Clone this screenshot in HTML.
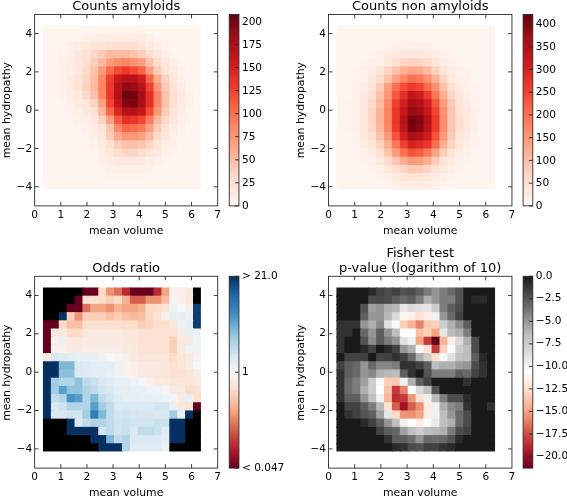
<!DOCTYPE html>
<html lang="en"><head><meta charset="utf-8"><title>Amyloid heatmaps</title>
<style>html,body{margin:0;padding:0;background:#fff}svg{display:block;will-change:transform}</style></head>
<body>
<svg width="567" height="497" viewBox="0 0 567 497" font-family='"DejaVu Sans", "Liberation Sans", sans-serif' font-size="10.85" fill="#000">
<rect width="567" height="497" fill="#fff"/>
<g>
<rect x="42.97" y="25.4" width="56.28" height="9.2" fill="#fff5f0"/>
<rect x="98.25" y="25.4" width="40.48" height="9.2" fill="#fff3ed"/>
<rect x="137.73" y="25.4" width="63.17" height="9.2" fill="#fff5f0"/>
<rect x="42.97" y="33.6" width="32.59" height="9.21" fill="#fff5f0"/>
<rect x="74.56" y="33.6" width="8.9" height="9.21" fill="#fff3ed"/>
<rect x="82.45" y="33.6" width="8.9" height="9.21" fill="#fff1ea"/>
<rect x="90.35" y="33.6" width="8.9" height="9.21" fill="#ffefe8"/>
<rect x="98.25" y="33.6" width="16.79" height="9.21" fill="#ffede5"/>
<rect x="114.04" y="33.6" width="16.79" height="9.21" fill="#ffece3"/>
<rect x="129.83" y="33.6" width="8.9" height="9.21" fill="#ffede5"/>
<rect x="137.73" y="33.6" width="8.9" height="9.21" fill="#ffeee6"/>
<rect x="145.62" y="33.6" width="8.9" height="9.21" fill="#fff1ea"/>
<rect x="153.52" y="33.6" width="8.9" height="9.21" fill="#fff3ed"/>
<rect x="161.42" y="33.6" width="39.48" height="9.21" fill="#fff5f0"/>
<rect x="42.97" y="41.81" width="16.79" height="9.2" fill="#fff5f0"/>
<rect x="58.76" y="41.81" width="8.9" height="9.2" fill="#fff3ed"/>
<rect x="66.66" y="41.81" width="8.9" height="9.2" fill="#fff1ea"/>
<rect x="74.56" y="41.81" width="8.9" height="9.2" fill="#ffede5"/>
<rect x="82.45" y="41.81" width="8.9" height="9.2" fill="#fee8de"/>
<rect x="90.35" y="41.81" width="8.9" height="9.2" fill="#fee5d8"/>
<rect x="98.25" y="41.81" width="8.9" height="9.2" fill="#fee3d6"/>
<rect x="106.14" y="41.81" width="32.59" height="9.2" fill="#fee0d2"/>
<rect x="137.73" y="41.81" width="8.9" height="9.2" fill="#fee5d8"/>
<rect x="145.62" y="41.81" width="8.9" height="9.2" fill="#feeae1"/>
<rect x="153.52" y="41.81" width="8.9" height="9.2" fill="#ffefe8"/>
<rect x="161.42" y="41.81" width="8.9" height="9.2" fill="#fff2ec"/>
<rect x="169.31" y="41.81" width="31.59" height="9.2" fill="#fff5f0"/>
<rect x="42.97" y="50.02" width="16.79" height="9.2" fill="#fff5f0"/>
<rect x="58.76" y="50.02" width="8.9" height="9.2" fill="#fff2ec"/>
<rect x="66.66" y="50.02" width="8.9" height="9.2" fill="#ffefe8"/>
<rect x="74.56" y="50.02" width="8.9" height="9.2" fill="#fee8de"/>
<rect x="82.45" y="50.02" width="8.9" height="9.2" fill="#fee3d6"/>
<rect x="90.35" y="50.02" width="8.9" height="9.2" fill="#fed9c9"/>
<rect x="98.25" y="50.02" width="8.9" height="9.2" fill="#fdcab5"/>
<rect x="106.14" y="50.02" width="24.69" height="9.2" fill="#fcbba1"/>
<rect x="129.83" y="50.02" width="8.9" height="9.2" fill="#fcc3ab"/>
<rect x="137.73" y="50.02" width="8.9" height="9.2" fill="#fdcdb9"/>
<rect x="145.62" y="50.02" width="8.9" height="9.2" fill="#fee0d2"/>
<rect x="153.52" y="50.02" width="8.9" height="9.2" fill="#fee8de"/>
<rect x="161.42" y="50.02" width="8.9" height="9.2" fill="#ffefe8"/>
<rect x="169.31" y="50.02" width="8.9" height="9.2" fill="#fff3ed"/>
<rect x="177.21" y="50.02" width="23.69" height="9.2" fill="#fff5f0"/>
<rect x="42.97" y="58.22" width="16.79" height="9.2" fill="#fff5f0"/>
<rect x="58.76" y="58.22" width="8.9" height="9.2" fill="#fff1ea"/>
<rect x="66.66" y="58.22" width="8.9" height="9.2" fill="#ffede5"/>
<rect x="74.56" y="58.22" width="8.9" height="9.2" fill="#fee7db"/>
<rect x="82.45" y="58.22" width="8.9" height="9.2" fill="#fee0d2"/>
<rect x="90.35" y="58.22" width="8.9" height="9.2" fill="#fdcdb9"/>
<rect x="98.25" y="58.22" width="8.9" height="9.2" fill="#fcb79c"/>
<rect x="106.14" y="58.22" width="8.9" height="9.2" fill="#fc9b7c"/>
<rect x="114.04" y="58.22" width="8.9" height="9.2" fill="#fc8e6e"/>
<rect x="121.94" y="58.22" width="8.9" height="9.2" fill="#fc8666"/>
<rect x="129.83" y="58.22" width="8.9" height="9.2" fill="#fc9272"/>
<rect x="137.73" y="58.22" width="8.9" height="9.2" fill="#fc9e80"/>
<rect x="145.62" y="58.22" width="8.9" height="9.2" fill="#fcc3ab"/>
<rect x="153.52" y="58.22" width="8.9" height="9.2" fill="#fedccd"/>
<rect x="161.42" y="58.22" width="8.9" height="9.2" fill="#fee8de"/>
<rect x="169.31" y="58.22" width="8.9" height="9.2" fill="#ffefe8"/>
<rect x="177.21" y="58.22" width="8.9" height="9.2" fill="#fff3ed"/>
<rect x="185.11" y="58.22" width="15.79" height="9.2" fill="#fff5f0"/>
<rect x="42.97" y="66.42" width="16.79" height="9.2" fill="#fff5f0"/>
<rect x="58.76" y="66.42" width="8.9" height="9.2" fill="#fff1ea"/>
<rect x="66.66" y="66.42" width="8.9" height="9.2" fill="#ffede5"/>
<rect x="74.56" y="66.42" width="8.9" height="9.2" fill="#fee7db"/>
<rect x="82.45" y="66.42" width="8.9" height="9.2" fill="#fed9c9"/>
<rect x="90.35" y="66.42" width="8.9" height="9.2" fill="#fcc3ab"/>
<rect x="98.25" y="66.42" width="8.9" height="9.2" fill="#fc9b7c"/>
<rect x="106.14" y="66.42" width="8.9" height="9.2" fill="#fb694a"/>
<rect x="114.04" y="66.42" width="8.9" height="9.2" fill="#f34935"/>
<rect x="121.94" y="66.42" width="8.9" height="9.2" fill="#ee3a2c"/>
<rect x="129.83" y="66.42" width="8.9" height="9.2" fill="#f34935"/>
<rect x="137.73" y="66.42" width="8.9" height="9.2" fill="#f96044"/>
<rect x="145.62" y="66.42" width="8.9" height="9.2" fill="#fc9e80"/>
<rect x="153.52" y="66.42" width="8.9" height="9.2" fill="#fdcdb9"/>
<rect x="161.42" y="66.42" width="8.9" height="9.2" fill="#fee5d8"/>
<rect x="169.31" y="66.42" width="8.9" height="9.2" fill="#feeae1"/>
<rect x="177.21" y="66.42" width="8.9" height="9.2" fill="#fff1ea"/>
<rect x="185.11" y="66.42" width="15.79" height="9.2" fill="#fff5f0"/>
<rect x="42.97" y="74.63" width="16.79" height="9.21" fill="#fff5f0"/>
<rect x="58.76" y="74.63" width="8.9" height="9.21" fill="#fff1ea"/>
<rect x="66.66" y="74.63" width="8.9" height="9.21" fill="#feeae1"/>
<rect x="74.56" y="74.63" width="8.9" height="9.21" fill="#fee3d6"/>
<rect x="82.45" y="74.63" width="8.9" height="9.21" fill="#fdd5c4"/>
<rect x="90.35" y="74.63" width="8.9" height="9.21" fill="#fcbba1"/>
<rect x="98.25" y="74.63" width="8.9" height="9.21" fill="#fc8666"/>
<rect x="106.14" y="74.63" width="8.9" height="9.21" fill="#ee3a2c"/>
<rect x="114.04" y="74.63" width="8.9" height="9.21" fill="#ca181d"/>
<rect x="121.94" y="74.63" width="16.79" height="9.21" fill="#b71319"/>
<rect x="137.73" y="74.63" width="8.9" height="9.21" fill="#cf1c1f"/>
<rect x="145.62" y="74.63" width="8.9" height="9.21" fill="#fa6547"/>
<rect x="153.52" y="74.63" width="8.9" height="9.21" fill="#fcab8f"/>
<rect x="161.42" y="74.63" width="8.9" height="9.21" fill="#fdd5c4"/>
<rect x="169.31" y="74.63" width="8.9" height="9.21" fill="#fee7db"/>
<rect x="177.21" y="74.63" width="8.9" height="9.21" fill="#ffefe8"/>
<rect x="185.11" y="74.63" width="8.9" height="9.21" fill="#fff3ed"/>
<rect x="193" y="74.63" width="7.9" height="9.21" fill="#fff5f0"/>
<rect x="42.97" y="82.84" width="16.79" height="9.2" fill="#fff5f0"/>
<rect x="58.76" y="82.84" width="8.9" height="9.2" fill="#fff1ea"/>
<rect x="66.66" y="82.84" width="8.9" height="9.2" fill="#feeae1"/>
<rect x="74.56" y="82.84" width="8.9" height="9.2" fill="#fee3d6"/>
<rect x="82.45" y="82.84" width="8.9" height="9.2" fill="#fdd2bf"/>
<rect x="90.35" y="82.84" width="8.9" height="9.2" fill="#fcb79c"/>
<rect x="98.25" y="82.84" width="8.9" height="9.2" fill="#fc8262"/>
<rect x="106.14" y="82.84" width="8.9" height="9.2" fill="#eb372a"/>
<rect x="114.04" y="82.84" width="8.9" height="9.2" fill="#b71319"/>
<rect x="121.94" y="82.84" width="8.9" height="9.2" fill="#920a13"/>
<rect x="129.83" y="82.84" width="8.9" height="9.2" fill="#980c13"/>
<rect x="137.73" y="82.84" width="8.9" height="9.2" fill="#b71319"/>
<rect x="145.62" y="82.84" width="8.9" height="9.2" fill="#f0402f"/>
<rect x="153.52" y="82.84" width="8.9" height="9.2" fill="#fc9777"/>
<rect x="161.42" y="82.84" width="8.9" height="9.2" fill="#fdcab5"/>
<rect x="169.31" y="82.84" width="8.9" height="9.2" fill="#fee3d6"/>
<rect x="177.21" y="82.84" width="8.9" height="9.2" fill="#ffede5"/>
<rect x="185.11" y="82.84" width="8.9" height="9.2" fill="#fff3ed"/>
<rect x="193" y="82.84" width="7.9" height="9.2" fill="#fff5f0"/>
<rect x="42.97" y="91.04" width="16.79" height="9.21" fill="#fff5f0"/>
<rect x="58.76" y="91.04" width="8.9" height="9.21" fill="#fff1ea"/>
<rect x="66.66" y="91.04" width="8.9" height="9.21" fill="#ffede5"/>
<rect x="74.56" y="91.04" width="8.9" height="9.21" fill="#fee7db"/>
<rect x="82.45" y="91.04" width="8.9" height="9.21" fill="#fed9c9"/>
<rect x="90.35" y="91.04" width="8.9" height="9.21" fill="#fcbfa7"/>
<rect x="98.25" y="91.04" width="8.9" height="9.21" fill="#fc8666"/>
<rect x="106.14" y="91.04" width="8.9" height="9.21" fill="#eb372a"/>
<rect x="114.04" y="91.04" width="8.9" height="9.21" fill="#b31218"/>
<rect x="121.94" y="91.04" width="8.9" height="9.21" fill="#6d010e"/>
<rect x="129.83" y="91.04" width="8.9" height="9.21" fill="#73030f"/>
<rect x="137.73" y="91.04" width="8.9" height="9.21" fill="#a91016"/>
<rect x="145.62" y="91.04" width="8.9" height="9.21" fill="#e43027"/>
<rect x="153.52" y="91.04" width="8.9" height="9.21" fill="#fc8666"/>
<rect x="161.42" y="91.04" width="8.9" height="9.21" fill="#fcc3ab"/>
<rect x="169.31" y="91.04" width="8.9" height="9.21" fill="#fee0d2"/>
<rect x="177.21" y="91.04" width="8.9" height="9.21" fill="#feeae1"/>
<rect x="185.11" y="91.04" width="8.9" height="9.21" fill="#fff1ea"/>
<rect x="193" y="91.04" width="7.9" height="9.21" fill="#fff5f0"/>
<rect x="42.97" y="99.25" width="16.79" height="9.2" fill="#fff5f0"/>
<rect x="58.76" y="99.25" width="8.9" height="9.2" fill="#fff3ed"/>
<rect x="66.66" y="99.25" width="8.9" height="9.2" fill="#ffefe8"/>
<rect x="74.56" y="99.25" width="8.9" height="9.2" fill="#feeae1"/>
<rect x="82.45" y="99.25" width="8.9" height="9.2" fill="#fee5d8"/>
<rect x="90.35" y="99.25" width="8.9" height="9.2" fill="#fdd2bf"/>
<rect x="98.25" y="99.25" width="8.9" height="9.2" fill="#fc9e80"/>
<rect x="106.14" y="99.25" width="8.9" height="9.2" fill="#f14432"/>
<rect x="114.04" y="99.25" width="8.9" height="9.2" fill="#c3161b"/>
<rect x="121.94" y="99.25" width="8.9" height="9.2" fill="#840711"/>
<rect x="129.83" y="99.25" width="8.9" height="9.2" fill="#7e0610"/>
<rect x="137.73" y="99.25" width="8.9" height="9.2" fill="#a91016"/>
<rect x="145.62" y="99.25" width="8.9" height="9.2" fill="#e43027"/>
<rect x="153.52" y="99.25" width="8.9" height="9.2" fill="#fc8666"/>
<rect x="161.42" y="99.25" width="8.9" height="9.2" fill="#fcc3ab"/>
<rect x="169.31" y="99.25" width="8.9" height="9.2" fill="#fee0d2"/>
<rect x="177.21" y="99.25" width="8.9" height="9.2" fill="#feeae1"/>
<rect x="185.11" y="99.25" width="8.9" height="9.2" fill="#fff1ea"/>
<rect x="193" y="99.25" width="7.9" height="9.2" fill="#fff5f0"/>
<rect x="42.97" y="107.45" width="24.69" height="9.21" fill="#fff5f0"/>
<rect x="66.66" y="107.45" width="8.9" height="9.21" fill="#fff2ec"/>
<rect x="74.56" y="107.45" width="8.9" height="9.21" fill="#ffefe8"/>
<rect x="82.45" y="107.45" width="8.9" height="9.21" fill="#fee8de"/>
<rect x="90.35" y="107.45" width="8.9" height="9.21" fill="#fee0d2"/>
<rect x="98.25" y="107.45" width="8.9" height="9.21" fill="#fcb398"/>
<rect x="106.14" y="107.45" width="8.9" height="9.21" fill="#fa6547"/>
<rect x="114.04" y="107.45" width="8.9" height="9.21" fill="#dc2924"/>
<rect x="121.94" y="107.45" width="8.9" height="9.21" fill="#b31218"/>
<rect x="129.83" y="107.45" width="8.9" height="9.21" fill="#b01217"/>
<rect x="137.73" y="107.45" width="8.9" height="9.21" fill="#c7171c"/>
<rect x="145.62" y="107.45" width="8.9" height="9.21" fill="#f34935"/>
<rect x="153.52" y="107.45" width="8.9" height="9.21" fill="#fc9777"/>
<rect x="161.42" y="107.45" width="8.9" height="9.21" fill="#fdcdb9"/>
<rect x="169.31" y="107.45" width="8.9" height="9.21" fill="#fee5d8"/>
<rect x="177.21" y="107.45" width="8.9" height="9.21" fill="#ffede5"/>
<rect x="185.11" y="107.45" width="8.9" height="9.21" fill="#fff3ed"/>
<rect x="193" y="107.45" width="7.9" height="9.21" fill="#fff5f0"/>
<rect x="42.97" y="115.66" width="24.69" height="9.21" fill="#fff5f0"/>
<rect x="66.66" y="115.66" width="8.9" height="9.21" fill="#fff3ed"/>
<rect x="74.56" y="115.66" width="8.9" height="9.21" fill="#fff1ea"/>
<rect x="82.45" y="115.66" width="8.9" height="9.21" fill="#ffefe8"/>
<rect x="90.35" y="115.66" width="8.9" height="9.21" fill="#fee8de"/>
<rect x="98.25" y="115.66" width="8.9" height="9.21" fill="#fdd2bf"/>
<rect x="106.14" y="115.66" width="8.9" height="9.21" fill="#fc9e80"/>
<rect x="114.04" y="115.66" width="8.9" height="9.21" fill="#f6583e"/>
<rect x="121.94" y="115.66" width="8.9" height="9.21" fill="#e43027"/>
<rect x="129.83" y="115.66" width="8.9" height="9.21" fill="#e83429"/>
<rect x="137.73" y="115.66" width="8.9" height="9.21" fill="#f14432"/>
<rect x="145.62" y="115.66" width="8.9" height="9.21" fill="#fb7d5d"/>
<rect x="153.52" y="115.66" width="8.9" height="9.21" fill="#fcb79c"/>
<rect x="161.42" y="115.66" width="8.9" height="9.21" fill="#fed9c9"/>
<rect x="169.31" y="115.66" width="8.9" height="9.21" fill="#fee8de"/>
<rect x="177.21" y="115.66" width="8.9" height="9.21" fill="#ffefe8"/>
<rect x="185.11" y="115.66" width="8.9" height="9.21" fill="#fff3ed"/>
<rect x="193" y="115.66" width="7.9" height="9.21" fill="#fff5f0"/>
<rect x="42.97" y="123.86" width="32.59" height="9.2" fill="#fff5f0"/>
<rect x="74.56" y="123.86" width="8.9" height="9.2" fill="#fff3ed"/>
<rect x="82.45" y="123.86" width="8.9" height="9.2" fill="#fff1ea"/>
<rect x="90.35" y="123.86" width="8.9" height="9.2" fill="#ffede5"/>
<rect x="98.25" y="123.86" width="8.9" height="9.2" fill="#fee5d8"/>
<rect x="106.14" y="123.86" width="8.9" height="9.2" fill="#fdc6b0"/>
<rect x="114.04" y="123.86" width="8.9" height="9.2" fill="#fc8a6a"/>
<rect x="121.94" y="123.86" width="8.9" height="9.2" fill="#fb694a"/>
<rect x="129.83" y="123.86" width="8.9" height="9.2" fill="#fb6e4e"/>
<rect x="137.73" y="123.86" width="8.9" height="9.2" fill="#fb7a5a"/>
<rect x="145.62" y="123.86" width="8.9" height="9.2" fill="#fc9e80"/>
<rect x="153.52" y="123.86" width="8.9" height="9.2" fill="#fdcab5"/>
<rect x="161.42" y="123.86" width="8.9" height="9.2" fill="#fee3d6"/>
<rect x="169.31" y="123.86" width="8.9" height="9.2" fill="#ffede5"/>
<rect x="177.21" y="123.86" width="8.9" height="9.2" fill="#fff1ea"/>
<rect x="185.11" y="123.86" width="15.79" height="9.2" fill="#fff5f0"/>
<rect x="42.97" y="132.06" width="40.48" height="9.21" fill="#fff5f0"/>
<rect x="82.45" y="132.06" width="8.9" height="9.21" fill="#fff3ed"/>
<rect x="90.35" y="132.06" width="8.9" height="9.21" fill="#ffefe8"/>
<rect x="98.25" y="132.06" width="8.9" height="9.21" fill="#fee7db"/>
<rect x="106.14" y="132.06" width="8.9" height="9.21" fill="#fdcdb9"/>
<rect x="114.04" y="132.06" width="8.9" height="9.21" fill="#fcab8f"/>
<rect x="121.94" y="132.06" width="16.79" height="9.21" fill="#fc9777"/>
<rect x="137.73" y="132.06" width="8.9" height="9.21" fill="#fca285"/>
<rect x="145.62" y="132.06" width="8.9" height="9.21" fill="#fcbba1"/>
<rect x="153.52" y="132.06" width="8.9" height="9.21" fill="#fedccd"/>
<rect x="161.42" y="132.06" width="8.9" height="9.21" fill="#fee8de"/>
<rect x="169.31" y="132.06" width="8.9" height="9.21" fill="#ffefe8"/>
<rect x="177.21" y="132.06" width="8.9" height="9.21" fill="#fff3ed"/>
<rect x="185.11" y="132.06" width="15.79" height="9.21" fill="#fff5f0"/>
<rect x="42.97" y="140.27" width="40.48" height="9.2" fill="#fff5f0"/>
<rect x="82.45" y="140.27" width="8.9" height="9.2" fill="#fff3ed"/>
<rect x="90.35" y="140.27" width="8.9" height="9.2" fill="#fff1ea"/>
<rect x="98.25" y="140.27" width="8.9" height="9.2" fill="#feeae1"/>
<rect x="106.14" y="140.27" width="8.9" height="9.2" fill="#fee0d2"/>
<rect x="114.04" y="140.27" width="8.9" height="9.2" fill="#fdcdb9"/>
<rect x="121.94" y="140.27" width="16.79" height="9.2" fill="#fcbfa7"/>
<rect x="137.73" y="140.27" width="8.9" height="9.2" fill="#fdc6b0"/>
<rect x="145.62" y="140.27" width="8.9" height="9.2" fill="#fdd5c4"/>
<rect x="153.52" y="140.27" width="8.9" height="9.2" fill="#fee5d8"/>
<rect x="161.42" y="140.27" width="8.9" height="9.2" fill="#ffede5"/>
<rect x="169.31" y="140.27" width="8.9" height="9.2" fill="#fff1ea"/>
<rect x="177.21" y="140.27" width="23.69" height="9.2" fill="#fff5f0"/>
<rect x="42.97" y="148.47" width="48.38" height="9.21" fill="#fff5f0"/>
<rect x="90.35" y="148.47" width="8.9" height="9.21" fill="#fff3ed"/>
<rect x="98.25" y="148.47" width="8.9" height="9.21" fill="#ffede5"/>
<rect x="106.14" y="148.47" width="8.9" height="9.21" fill="#fee7db"/>
<rect x="114.04" y="148.47" width="8.9" height="9.21" fill="#fedccd"/>
<rect x="121.94" y="148.47" width="16.79" height="9.21" fill="#fdd5c4"/>
<rect x="137.73" y="148.47" width="8.9" height="9.21" fill="#fedccd"/>
<rect x="145.62" y="148.47" width="8.9" height="9.21" fill="#fee5d8"/>
<rect x="153.52" y="148.47" width="8.9" height="9.21" fill="#feeae1"/>
<rect x="161.42" y="148.47" width="8.9" height="9.21" fill="#ffefe8"/>
<rect x="169.31" y="148.47" width="8.9" height="9.21" fill="#fff3ed"/>
<rect x="177.21" y="148.47" width="23.69" height="9.21" fill="#fff5f0"/>
<rect x="42.97" y="156.68" width="56.28" height="9.21" fill="#fff5f0"/>
<rect x="98.25" y="156.68" width="8.9" height="9.21" fill="#fff1ea"/>
<rect x="106.14" y="156.68" width="8.9" height="9.21" fill="#ffede5"/>
<rect x="114.04" y="156.68" width="8.9" height="9.21" fill="#fee8de"/>
<rect x="121.94" y="156.68" width="16.79" height="9.21" fill="#fee7db"/>
<rect x="137.73" y="156.68" width="8.9" height="9.21" fill="#fee8de"/>
<rect x="145.62" y="156.68" width="8.9" height="9.21" fill="#ffede5"/>
<rect x="153.52" y="156.68" width="8.9" height="9.21" fill="#ffefe8"/>
<rect x="161.42" y="156.68" width="8.9" height="9.21" fill="#fff3ed"/>
<rect x="169.31" y="156.68" width="31.59" height="9.21" fill="#fff5f0"/>
<rect x="42.97" y="164.89" width="56.28" height="9.2" fill="#fff5f0"/>
<rect x="98.25" y="164.89" width="8.9" height="9.2" fill="#fff3ed"/>
<rect x="106.14" y="164.89" width="8.9" height="9.2" fill="#fff1ea"/>
<rect x="114.04" y="164.89" width="32.59" height="9.2" fill="#ffefe8"/>
<rect x="145.62" y="164.89" width="8.9" height="9.2" fill="#fff1ea"/>
<rect x="153.52" y="164.89" width="8.9" height="9.2" fill="#fff3ed"/>
<rect x="161.42" y="164.89" width="39.48" height="9.2" fill="#fff5f0"/>
<rect x="42.97" y="173.09" width="64.17" height="9.21" fill="#fff5f0"/>
<rect x="106.14" y="173.09" width="40.48" height="9.21" fill="#fff3ed"/>
<rect x="145.62" y="173.09" width="55.28" height="9.21" fill="#fff5f0"/>
<rect x="42.97" y="181.3" width="157.93" height="8.2" fill="#fff5f0"/>
</g>
<rect x="34.64" y="14.45" width="183.05" height="191.45" fill="none" stroke="#2b2b2b" stroke-width="0.9"/>
<text x="34.64" y="218.1" text-anchor="middle" font-size="10.55">0</text>
<text x="60.79" y="218.1" text-anchor="middle" font-size="10.55">1</text>
<text x="86.94" y="218.1" text-anchor="middle" font-size="10.55">2</text>
<text x="113.09" y="218.1" text-anchor="middle" font-size="10.55">3</text>
<text x="139.24" y="218.1" text-anchor="middle" font-size="10.55">4</text>
<text x="165.39" y="218.1" text-anchor="middle" font-size="10.55">5</text>
<text x="191.54" y="218.1" text-anchor="middle" font-size="10.55">6</text>
<text x="217.69" y="218.1" text-anchor="middle" font-size="10.55">7</text>
<text x="32.14" y="190" text-anchor="end" font-size="10.55">−4</text>
<text x="32.14" y="151.71" text-anchor="end" font-size="10.55">−2</text>
<text x="32.14" y="113.42" text-anchor="end" font-size="10.55">0</text>
<text x="32.14" y="75.13" text-anchor="end" font-size="10.55">2</text>
<text x="32.14" y="36.84" text-anchor="end" font-size="10.55">4</text>
<path d="M60.79 205.9v-4M60.79 14.45v4M86.94 205.9v-4M86.94 14.45v4M113.09 205.9v-4M113.09 14.45v4M139.24 205.9v-4M139.24 14.45v4M165.39 205.9v-4M165.39 14.45v4M191.54 205.9v-4M191.54 14.45v4M34.64 186.75h4M217.69 186.75h-4M34.64 148.46h4M217.69 148.46h-4M34.64 110.17h4M217.69 110.17h-4M34.64 71.88h4M217.69 71.88h-4M34.64 33.59h4M217.69 33.59h-4" stroke="#2b2b2b" stroke-width="0.9" fill="none"/>
<text x="126.16" y="233.7" text-anchor="middle">mean volume</text>
<text transform="translate(9.64 110.17) rotate(-90)" text-anchor="middle">mean hydropathy</text>
<text x="126.16" y="9.95" text-anchor="middle" font-size="13.0">Counts amyloids</text>
<defs><linearGradient id="g1" x1="0" y1="0" x2="0" y2="1"><stop offset="0" stop-color="#67000d"/><stop offset="0.03" stop-color="#75030f"/><stop offset="0.06" stop-color="#840711"/><stop offset="0.09" stop-color="#940b13"/><stop offset="0.12" stop-color="#a30f15"/><stop offset="0.16" stop-color="#ad1117"/><stop offset="0.19" stop-color="#b71319"/><stop offset="0.22" stop-color="#c1161b"/><stop offset="0.25" stop-color="#ca181d"/><stop offset="0.28" stop-color="#d32020"/><stop offset="0.31" stop-color="#dc2924"/><stop offset="0.34" stop-color="#e53228"/><stop offset="0.38" stop-color="#ee3a2c"/><stop offset="0.41" stop-color="#f24633"/><stop offset="0.44" stop-color="#f5523a"/><stop offset="0.47" stop-color="#f85d42"/><stop offset="0.5" stop-color="#fb694a"/><stop offset="0.53" stop-color="#fb7353"/><stop offset="0.56" stop-color="#fb7d5d"/><stop offset="0.59" stop-color="#fc8767"/><stop offset="0.62" stop-color="#fc9272"/><stop offset="0.66" stop-color="#fc9c7d"/><stop offset="0.69" stop-color="#fca689"/><stop offset="0.72" stop-color="#fcb095"/><stop offset="0.75" stop-color="#fcbba1"/><stop offset="0.78" stop-color="#fcc4ad"/><stop offset="0.81" stop-color="#fdcdb9"/><stop offset="0.84" stop-color="#fdd7c6"/><stop offset="0.88" stop-color="#fee0d2"/><stop offset="0.91" stop-color="#fee5d9"/><stop offset="0.94" stop-color="#feeae1"/><stop offset="0.97" stop-color="#fff0e8"/><stop offset="1" stop-color="#fff5f0"/></linearGradient></defs>
<rect x="229.24" y="14.45" width="9.7" height="191.45" fill="url(#g1)" stroke="#2b2b2b" stroke-width="0.9"/>
<text x="241.94" y="209.15" font-size="10.55">0</text>
<text x="241.94" y="186.09" font-size="10.55">25</text>
<text x="241.94" y="163.04" font-size="10.55">50</text>
<text x="241.94" y="139.98" font-size="10.55">75</text>
<text x="241.94" y="116.93" font-size="10.55">100</text>
<text x="241.94" y="93.87" font-size="10.55">125</text>
<text x="241.94" y="70.82" font-size="10.55">150</text>
<text x="241.94" y="47.76" font-size="10.55">175</text>
<text x="241.94" y="24.71" font-size="10.55">200</text>
<path d="M238.94 205.9h-4M238.94 182.84h-4M238.94 159.79h-4M238.94 136.73h-4M238.94 113.68h-4M238.94 90.62h-4M238.94 67.57h-4M238.94 44.51h-4M238.94 21.46h-4" stroke="#2b2b2b" stroke-width="0.9" fill="none"/>
<g>
<rect x="336.4" y="25.4" width="158.65" height="9.2" fill="#fff5f0"/>
<rect x="336.4" y="33.6" width="64.46" height="9.21" fill="#fff5f0"/>
<rect x="399.86" y="33.6" width="24.8" height="9.21" fill="#fff4ef"/>
<rect x="423.66" y="33.6" width="71.39" height="9.21" fill="#fff5f0"/>
<rect x="336.4" y="41.81" width="48.6" height="9.2" fill="#fff5f0"/>
<rect x="384" y="41.81" width="8.93" height="9.2" fill="#fff3ed"/>
<rect x="391.93" y="41.81" width="8.93" height="9.2" fill="#fff2ec"/>
<rect x="399.86" y="41.81" width="24.8" height="9.2" fill="#fff1ea"/>
<rect x="423.66" y="41.81" width="8.93" height="9.2" fill="#fff2ec"/>
<rect x="431.59" y="41.81" width="8.93" height="9.2" fill="#fff3ed"/>
<rect x="439.52" y="41.81" width="55.53" height="9.2" fill="#fff5f0"/>
<rect x="336.4" y="50.02" width="32.73" height="9.2" fill="#fff5f0"/>
<rect x="368.13" y="50.02" width="8.93" height="9.2" fill="#fff3ed"/>
<rect x="376.06" y="50.02" width="8.93" height="9.2" fill="#fff1ea"/>
<rect x="384" y="50.02" width="8.93" height="9.2" fill="#ffede5"/>
<rect x="391.93" y="50.02" width="8.93" height="9.2" fill="#feeae1"/>
<rect x="399.86" y="50.02" width="24.8" height="9.2" fill="#fee8de"/>
<rect x="423.66" y="50.02" width="8.93" height="9.2" fill="#feeae1"/>
<rect x="431.59" y="50.02" width="8.93" height="9.2" fill="#ffede5"/>
<rect x="439.52" y="50.02" width="8.93" height="9.2" fill="#fff1ea"/>
<rect x="447.45" y="50.02" width="8.93" height="9.2" fill="#fff3ed"/>
<rect x="455.39" y="50.02" width="39.66" height="9.2" fill="#fff5f0"/>
<rect x="336.4" y="58.22" width="24.8" height="9.2" fill="#fff5f0"/>
<rect x="360.2" y="58.22" width="8.93" height="9.2" fill="#fff3ed"/>
<rect x="368.13" y="58.22" width="8.93" height="9.2" fill="#fff1ea"/>
<rect x="376.06" y="58.22" width="8.93" height="9.2" fill="#ffefe8"/>
<rect x="384" y="58.22" width="8.93" height="9.2" fill="#fee7db"/>
<rect x="391.93" y="58.22" width="8.93" height="9.2" fill="#fee0d2"/>
<rect x="399.86" y="58.22" width="8.93" height="9.2" fill="#fdd5c4"/>
<rect x="407.79" y="58.22" width="8.93" height="9.2" fill="#fdd2bf"/>
<rect x="415.73" y="58.22" width="8.93" height="9.2" fill="#fdd5c4"/>
<rect x="423.66" y="58.22" width="8.93" height="9.2" fill="#fedccd"/>
<rect x="431.59" y="58.22" width="8.93" height="9.2" fill="#fee5d8"/>
<rect x="439.52" y="58.22" width="8.93" height="9.2" fill="#ffede5"/>
<rect x="447.45" y="58.22" width="8.93" height="9.2" fill="#fff1ea"/>
<rect x="455.39" y="58.22" width="8.93" height="9.2" fill="#fff3ed"/>
<rect x="463.32" y="58.22" width="31.73" height="9.2" fill="#fff5f0"/>
<rect x="336.4" y="66.42" width="16.87" height="9.2" fill="#fff5f0"/>
<rect x="352.26" y="66.42" width="8.93" height="9.2" fill="#fff3ed"/>
<rect x="360.2" y="66.42" width="8.93" height="9.2" fill="#fff1ea"/>
<rect x="368.13" y="66.42" width="8.93" height="9.2" fill="#ffede5"/>
<rect x="376.06" y="66.42" width="8.93" height="9.2" fill="#fee5d8"/>
<rect x="384" y="66.42" width="8.93" height="9.2" fill="#fdd5c4"/>
<rect x="391.93" y="66.42" width="8.93" height="9.2" fill="#fcc3ab"/>
<rect x="399.86" y="66.42" width="8.93" height="9.2" fill="#fcaf93"/>
<rect x="407.79" y="66.42" width="8.93" height="9.2" fill="#fca689"/>
<rect x="415.73" y="66.42" width="8.93" height="9.2" fill="#fcab8f"/>
<rect x="423.66" y="66.42" width="8.93" height="9.2" fill="#fcbba1"/>
<rect x="431.59" y="66.42" width="8.93" height="9.2" fill="#fdd2bf"/>
<rect x="439.52" y="66.42" width="8.93" height="9.2" fill="#fee5d8"/>
<rect x="447.45" y="66.42" width="8.93" height="9.2" fill="#ffede5"/>
<rect x="455.39" y="66.42" width="8.93" height="9.2" fill="#fff1ea"/>
<rect x="463.32" y="66.42" width="8.93" height="9.2" fill="#fff3ed"/>
<rect x="471.25" y="66.42" width="23.8" height="9.2" fill="#fff5f0"/>
<rect x="336.4" y="74.63" width="16.87" height="9.21" fill="#fff5f0"/>
<rect x="352.26" y="74.63" width="8.93" height="9.21" fill="#fff3ed"/>
<rect x="360.2" y="74.63" width="8.93" height="9.21" fill="#ffefe8"/>
<rect x="368.13" y="74.63" width="8.93" height="9.21" fill="#fee8de"/>
<rect x="376.06" y="74.63" width="8.93" height="9.21" fill="#fedccd"/>
<rect x="384" y="74.63" width="8.93" height="9.21" fill="#fcc3ab"/>
<rect x="391.93" y="74.63" width="8.93" height="9.21" fill="#fca285"/>
<rect x="399.86" y="74.63" width="8.93" height="9.21" fill="#fc8666"/>
<rect x="407.79" y="74.63" width="8.93" height="9.21" fill="#fb7252"/>
<rect x="415.73" y="74.63" width="8.93" height="9.21" fill="#fb7a5a"/>
<rect x="423.66" y="74.63" width="8.93" height="9.21" fill="#fc9272"/>
<rect x="431.59" y="74.63" width="8.93" height="9.21" fill="#fcb398"/>
<rect x="439.52" y="74.63" width="8.93" height="9.21" fill="#fdd5c4"/>
<rect x="447.45" y="74.63" width="8.93" height="9.21" fill="#fee7db"/>
<rect x="455.39" y="74.63" width="8.93" height="9.21" fill="#ffefe8"/>
<rect x="463.32" y="74.63" width="8.93" height="9.21" fill="#fff2ec"/>
<rect x="471.25" y="74.63" width="23.8" height="9.21" fill="#fff5f0"/>
<rect x="336.4" y="82.84" width="16.87" height="9.2" fill="#fff5f0"/>
<rect x="352.26" y="82.84" width="8.93" height="9.2" fill="#fff1ea"/>
<rect x="360.2" y="82.84" width="8.93" height="9.2" fill="#ffede5"/>
<rect x="368.13" y="82.84" width="8.93" height="9.2" fill="#fee5d8"/>
<rect x="376.06" y="82.84" width="8.93" height="9.2" fill="#fdcab5"/>
<rect x="384" y="82.84" width="8.93" height="9.2" fill="#fc9e80"/>
<rect x="391.93" y="82.84" width="8.93" height="9.2" fill="#fb7252"/>
<rect x="399.86" y="82.84" width="8.93" height="9.2" fill="#f44d38"/>
<rect x="407.79" y="82.84" width="8.93" height="9.2" fill="#ee3a2c"/>
<rect x="415.73" y="82.84" width="8.93" height="9.2" fill="#f14432"/>
<rect x="423.66" y="82.84" width="8.93" height="9.2" fill="#fb694a"/>
<rect x="431.59" y="82.84" width="8.93" height="9.2" fill="#fc9272"/>
<rect x="439.52" y="82.84" width="8.93" height="9.2" fill="#fcc3ab"/>
<rect x="447.45" y="82.84" width="8.93" height="9.2" fill="#fee0d2"/>
<rect x="455.39" y="82.84" width="8.93" height="9.2" fill="#feeae1"/>
<rect x="463.32" y="82.84" width="8.93" height="9.2" fill="#fff1ea"/>
<rect x="471.25" y="82.84" width="8.93" height="9.2" fill="#fff3ed"/>
<rect x="479.19" y="82.84" width="15.87" height="9.2" fill="#fff5f0"/>
<rect x="336.4" y="91.04" width="16.87" height="9.21" fill="#fff5f0"/>
<rect x="352.26" y="91.04" width="8.93" height="9.21" fill="#fff1ea"/>
<rect x="360.2" y="91.04" width="8.93" height="9.21" fill="#feeae1"/>
<rect x="368.13" y="91.04" width="8.93" height="9.21" fill="#fee0d2"/>
<rect x="376.06" y="91.04" width="8.93" height="9.21" fill="#fcbfa7"/>
<rect x="384" y="91.04" width="8.93" height="9.21" fill="#fc9777"/>
<rect x="391.93" y="91.04" width="8.93" height="9.21" fill="#f6583e"/>
<rect x="399.86" y="91.04" width="8.93" height="9.21" fill="#e43027"/>
<rect x="407.79" y="91.04" width="8.93" height="9.21" fill="#c3161b"/>
<rect x="415.73" y="91.04" width="8.93" height="9.21" fill="#cf1c1f"/>
<rect x="423.66" y="91.04" width="8.93" height="9.21" fill="#ee3a2c"/>
<rect x="431.59" y="91.04" width="8.93" height="9.21" fill="#fb7656"/>
<rect x="439.52" y="91.04" width="8.93" height="9.21" fill="#fcaf93"/>
<rect x="447.45" y="91.04" width="8.93" height="9.21" fill="#fdd5c4"/>
<rect x="455.39" y="91.04" width="8.93" height="9.21" fill="#fee8de"/>
<rect x="463.32" y="91.04" width="8.93" height="9.21" fill="#ffefe8"/>
<rect x="471.25" y="91.04" width="8.93" height="9.21" fill="#fff3ed"/>
<rect x="479.19" y="91.04" width="15.87" height="9.21" fill="#fff5f0"/>
<rect x="336.4" y="99.25" width="8.93" height="9.2" fill="#fff5f0"/>
<rect x="344.33" y="99.25" width="8.93" height="9.2" fill="#fff3ed"/>
<rect x="352.26" y="99.25" width="8.93" height="9.2" fill="#ffefe8"/>
<rect x="360.2" y="99.25" width="8.93" height="9.2" fill="#fee8de"/>
<rect x="368.13" y="99.25" width="8.93" height="9.2" fill="#fed9c9"/>
<rect x="376.06" y="99.25" width="8.93" height="9.2" fill="#fcbba1"/>
<rect x="384" y="99.25" width="8.93" height="9.2" fill="#fc8a6a"/>
<rect x="391.93" y="99.25" width="8.93" height="9.2" fill="#f0402f"/>
<rect x="399.86" y="99.25" width="8.93" height="9.2" fill="#d21f20"/>
<rect x="407.79" y="99.25" width="8.93" height="9.2" fill="#a91016"/>
<rect x="415.73" y="99.25" width="8.93" height="9.2" fill="#b31218"/>
<rect x="423.66" y="99.25" width="8.93" height="9.2" fill="#d21f20"/>
<rect x="431.59" y="99.25" width="8.93" height="9.2" fill="#f6583e"/>
<rect x="439.52" y="99.25" width="8.93" height="9.2" fill="#fc9b7c"/>
<rect x="447.45" y="99.25" width="8.93" height="9.2" fill="#fdcab5"/>
<rect x="455.39" y="99.25" width="8.93" height="9.2" fill="#fee3d6"/>
<rect x="463.32" y="99.25" width="8.93" height="9.2" fill="#ffede5"/>
<rect x="471.25" y="99.25" width="8.93" height="9.2" fill="#fff2ec"/>
<rect x="479.19" y="99.25" width="15.87" height="9.2" fill="#fff5f0"/>
<rect x="336.4" y="107.45" width="8.93" height="9.21" fill="#fff5f0"/>
<rect x="344.33" y="107.45" width="8.93" height="9.21" fill="#fff3ed"/>
<rect x="352.26" y="107.45" width="8.93" height="9.21" fill="#ffefe8"/>
<rect x="360.2" y="107.45" width="8.93" height="9.21" fill="#fee7db"/>
<rect x="368.13" y="107.45" width="8.93" height="9.21" fill="#fdd5c4"/>
<rect x="376.06" y="107.45" width="8.93" height="9.21" fill="#fcb398"/>
<rect x="384" y="107.45" width="8.93" height="9.21" fill="#fc8262"/>
<rect x="391.93" y="107.45" width="8.93" height="9.21" fill="#eb372a"/>
<rect x="399.86" y="107.45" width="8.93" height="9.21" fill="#c7171c"/>
<rect x="407.79" y="107.45" width="8.93" height="9.21" fill="#980c13"/>
<rect x="415.73" y="107.45" width="8.93" height="9.21" fill="#a30f15"/>
<rect x="423.66" y="107.45" width="8.93" height="9.21" fill="#ca181d"/>
<rect x="431.59" y="107.45" width="8.93" height="9.21" fill="#f14432"/>
<rect x="439.52" y="107.45" width="8.93" height="9.21" fill="#fc9272"/>
<rect x="447.45" y="107.45" width="8.93" height="9.21" fill="#fdc6b0"/>
<rect x="455.39" y="107.45" width="8.93" height="9.21" fill="#fee3d6"/>
<rect x="463.32" y="107.45" width="8.93" height="9.21" fill="#feeae1"/>
<rect x="471.25" y="107.45" width="8.93" height="9.21" fill="#fff1ea"/>
<rect x="479.19" y="107.45" width="15.87" height="9.21" fill="#fff5f0"/>
<rect x="336.4" y="115.66" width="8.93" height="9.21" fill="#fff5f0"/>
<rect x="344.33" y="115.66" width="8.93" height="9.21" fill="#fff3ed"/>
<rect x="352.26" y="115.66" width="8.93" height="9.21" fill="#ffefe8"/>
<rect x="360.2" y="115.66" width="8.93" height="9.21" fill="#fee7db"/>
<rect x="368.13" y="115.66" width="8.93" height="9.21" fill="#fdd5c4"/>
<rect x="376.06" y="115.66" width="8.93" height="9.21" fill="#fcb398"/>
<rect x="384" y="115.66" width="8.93" height="9.21" fill="#fc8262"/>
<rect x="391.93" y="115.66" width="8.93" height="9.21" fill="#eb372a"/>
<rect x="399.86" y="115.66" width="8.93" height="9.21" fill="#b71319"/>
<rect x="407.79" y="115.66" width="8.93" height="9.21" fill="#73030f"/>
<rect x="415.73" y="115.66" width="8.93" height="9.21" fill="#840711"/>
<rect x="423.66" y="115.66" width="8.93" height="9.21" fill="#b71319"/>
<rect x="431.59" y="115.66" width="8.93" height="9.21" fill="#ee3a2c"/>
<rect x="439.52" y="115.66" width="8.93" height="9.21" fill="#fc8e6e"/>
<rect x="447.45" y="115.66" width="8.93" height="9.21" fill="#fdc6b0"/>
<rect x="455.39" y="115.66" width="8.93" height="9.21" fill="#fee0d2"/>
<rect x="463.32" y="115.66" width="8.93" height="9.21" fill="#feeae1"/>
<rect x="471.25" y="115.66" width="8.93" height="9.21" fill="#fff1ea"/>
<rect x="479.19" y="115.66" width="15.87" height="9.21" fill="#fff5f0"/>
<rect x="336.4" y="123.86" width="8.93" height="9.2" fill="#fff5f0"/>
<rect x="344.33" y="123.86" width="8.93" height="9.2" fill="#fff3ed"/>
<rect x="352.26" y="123.86" width="8.93" height="9.2" fill="#ffefe8"/>
<rect x="360.2" y="123.86" width="8.93" height="9.2" fill="#fee8de"/>
<rect x="368.13" y="123.86" width="8.93" height="9.2" fill="#fed9c9"/>
<rect x="376.06" y="123.86" width="8.93" height="9.2" fill="#fcb79c"/>
<rect x="384" y="123.86" width="8.93" height="9.2" fill="#fc8666"/>
<rect x="391.93" y="123.86" width="8.93" height="9.2" fill="#ee3a2c"/>
<rect x="399.86" y="123.86" width="8.93" height="9.2" fill="#bc141a"/>
<rect x="407.79" y="123.86" width="8.93" height="9.2" fill="#79040f"/>
<rect x="415.73" y="123.86" width="8.93" height="9.2" fill="#8c0912"/>
<rect x="423.66" y="123.86" width="8.93" height="9.2" fill="#bc141a"/>
<rect x="431.59" y="123.86" width="8.93" height="9.2" fill="#ee3a2c"/>
<rect x="439.52" y="123.86" width="8.93" height="9.2" fill="#fc8e6e"/>
<rect x="447.45" y="123.86" width="8.93" height="9.2" fill="#fdc6b0"/>
<rect x="455.39" y="123.86" width="8.93" height="9.2" fill="#fee0d2"/>
<rect x="463.32" y="123.86" width="8.93" height="9.2" fill="#feeae1"/>
<rect x="471.25" y="123.86" width="8.93" height="9.2" fill="#fff1ea"/>
<rect x="479.19" y="123.86" width="15.87" height="9.2" fill="#fff5f0"/>
<rect x="336.4" y="132.06" width="16.87" height="9.21" fill="#fff5f0"/>
<rect x="352.26" y="132.06" width="8.93" height="9.21" fill="#fff1ea"/>
<rect x="360.2" y="132.06" width="8.93" height="9.21" fill="#feeae1"/>
<rect x="368.13" y="132.06" width="8.93" height="9.21" fill="#fee0d2"/>
<rect x="376.06" y="132.06" width="8.93" height="9.21" fill="#fcc3ab"/>
<rect x="384" y="132.06" width="8.93" height="9.21" fill="#fc9b7c"/>
<rect x="391.93" y="132.06" width="8.93" height="9.21" fill="#f5523a"/>
<rect x="399.86" y="132.06" width="8.93" height="9.21" fill="#d21f20"/>
<rect x="407.79" y="132.06" width="8.93" height="9.21" fill="#ac1117"/>
<rect x="415.73" y="132.06" width="8.93" height="9.21" fill="#b31218"/>
<rect x="423.66" y="132.06" width="8.93" height="9.21" fill="#cf1c1f"/>
<rect x="431.59" y="132.06" width="8.93" height="9.21" fill="#f5523a"/>
<rect x="439.52" y="132.06" width="8.93" height="9.21" fill="#fc9b7c"/>
<rect x="447.45" y="132.06" width="8.93" height="9.21" fill="#fdcdb9"/>
<rect x="455.39" y="132.06" width="8.93" height="9.21" fill="#fee5d8"/>
<rect x="463.32" y="132.06" width="8.93" height="9.21" fill="#ffede5"/>
<rect x="471.25" y="132.06" width="8.93" height="9.21" fill="#fff2ec"/>
<rect x="479.19" y="132.06" width="15.87" height="9.21" fill="#fff5f0"/>
<rect x="336.4" y="140.27" width="16.87" height="9.2" fill="#fff5f0"/>
<rect x="352.26" y="140.27" width="8.93" height="9.2" fill="#fff3ed"/>
<rect x="360.2" y="140.27" width="8.93" height="9.2" fill="#ffede5"/>
<rect x="368.13" y="140.27" width="8.93" height="9.2" fill="#fee5d8"/>
<rect x="376.06" y="140.27" width="8.93" height="9.2" fill="#fdd2bf"/>
<rect x="384" y="140.27" width="8.93" height="9.2" fill="#fcaf93"/>
<rect x="391.93" y="140.27" width="8.93" height="9.2" fill="#fb7a5a"/>
<rect x="399.86" y="140.27" width="8.93" height="9.2" fill="#f0402f"/>
<rect x="407.79" y="140.27" width="8.93" height="9.2" fill="#d52221"/>
<rect x="415.73" y="140.27" width="8.93" height="9.2" fill="#dc2924"/>
<rect x="423.66" y="140.27" width="8.93" height="9.2" fill="#eb372a"/>
<rect x="431.59" y="140.27" width="8.93" height="9.2" fill="#fb6e4e"/>
<rect x="439.52" y="140.27" width="8.93" height="9.2" fill="#fcaf93"/>
<rect x="447.45" y="140.27" width="8.93" height="9.2" fill="#fdd5c4"/>
<rect x="455.39" y="140.27" width="8.93" height="9.2" fill="#fee7db"/>
<rect x="463.32" y="140.27" width="8.93" height="9.2" fill="#ffefe8"/>
<rect x="471.25" y="140.27" width="8.93" height="9.2" fill="#fff3ed"/>
<rect x="479.19" y="140.27" width="15.87" height="9.2" fill="#fff5f0"/>
<rect x="336.4" y="148.47" width="24.8" height="9.21" fill="#fff5f0"/>
<rect x="360.2" y="148.47" width="8.93" height="9.21" fill="#fff1ea"/>
<rect x="368.13" y="148.47" width="8.93" height="9.21" fill="#feeae1"/>
<rect x="376.06" y="148.47" width="8.93" height="9.21" fill="#fee0d2"/>
<rect x="384" y="148.47" width="8.93" height="9.21" fill="#fcc3ab"/>
<rect x="391.93" y="148.47" width="8.93" height="9.21" fill="#fc9b7c"/>
<rect x="399.86" y="148.47" width="8.93" height="9.21" fill="#fb7252"/>
<rect x="407.79" y="148.47" width="8.93" height="9.21" fill="#f5523a"/>
<rect x="415.73" y="148.47" width="8.93" height="9.21" fill="#f75c41"/>
<rect x="423.66" y="148.47" width="8.93" height="9.21" fill="#fb7a5a"/>
<rect x="431.59" y="148.47" width="8.93" height="9.21" fill="#fca285"/>
<rect x="439.52" y="148.47" width="8.93" height="9.21" fill="#fdcdb9"/>
<rect x="447.45" y="148.47" width="8.93" height="9.21" fill="#fee5d8"/>
<rect x="455.39" y="148.47" width="8.93" height="9.21" fill="#ffede5"/>
<rect x="463.32" y="148.47" width="8.93" height="9.21" fill="#fff1ea"/>
<rect x="471.25" y="148.47" width="23.8" height="9.21" fill="#fff5f0"/>
<rect x="336.4" y="156.68" width="24.8" height="9.21" fill="#fff5f0"/>
<rect x="360.2" y="156.68" width="8.93" height="9.21" fill="#fff3ed"/>
<rect x="368.13" y="156.68" width="8.93" height="9.21" fill="#ffefe8"/>
<rect x="376.06" y="156.68" width="8.93" height="9.21" fill="#fee8de"/>
<rect x="384" y="156.68" width="8.93" height="9.21" fill="#fedccd"/>
<rect x="391.93" y="156.68" width="8.93" height="9.21" fill="#fdc6b0"/>
<rect x="399.86" y="156.68" width="8.93" height="9.21" fill="#fcab8f"/>
<rect x="407.79" y="156.68" width="8.93" height="9.21" fill="#fc9b7c"/>
<rect x="415.73" y="156.68" width="8.93" height="9.21" fill="#fc9e80"/>
<rect x="423.66" y="156.68" width="8.93" height="9.21" fill="#fcaf93"/>
<rect x="431.59" y="156.68" width="8.93" height="9.21" fill="#fdcab5"/>
<rect x="439.52" y="156.68" width="8.93" height="9.21" fill="#fee3d6"/>
<rect x="447.45" y="156.68" width="8.93" height="9.21" fill="#feeae1"/>
<rect x="455.39" y="156.68" width="8.93" height="9.21" fill="#fff1ea"/>
<rect x="463.32" y="156.68" width="8.93" height="9.21" fill="#fff3ed"/>
<rect x="471.25" y="156.68" width="23.8" height="9.21" fill="#fff5f0"/>
<rect x="336.4" y="164.89" width="32.73" height="9.2" fill="#fff5f0"/>
<rect x="368.13" y="164.89" width="8.93" height="9.2" fill="#fff3ed"/>
<rect x="376.06" y="164.89" width="8.93" height="9.2" fill="#ffefe8"/>
<rect x="384" y="164.89" width="8.93" height="9.2" fill="#fee8de"/>
<rect x="391.93" y="164.89" width="8.93" height="9.2" fill="#fee0d2"/>
<rect x="399.86" y="164.89" width="8.93" height="9.2" fill="#fdd5c4"/>
<rect x="407.79" y="164.89" width="8.93" height="9.2" fill="#fdcab5"/>
<rect x="415.73" y="164.89" width="8.93" height="9.2" fill="#fdcdb9"/>
<rect x="423.66" y="164.89" width="8.93" height="9.2" fill="#fdd5c4"/>
<rect x="431.59" y="164.89" width="8.93" height="9.2" fill="#fee3d6"/>
<rect x="439.52" y="164.89" width="8.93" height="9.2" fill="#feeae1"/>
<rect x="447.45" y="164.89" width="8.93" height="9.2" fill="#ffefe8"/>
<rect x="455.39" y="164.89" width="8.93" height="9.2" fill="#fff3ed"/>
<rect x="463.32" y="164.89" width="31.73" height="9.2" fill="#fff5f0"/>
<rect x="336.4" y="173.09" width="40.66" height="9.21" fill="#fff5f0"/>
<rect x="376.06" y="173.09" width="8.93" height="9.21" fill="#fff3ed"/>
<rect x="384" y="173.09" width="8.93" height="9.21" fill="#ffefe8"/>
<rect x="391.93" y="173.09" width="8.93" height="9.21" fill="#feeae1"/>
<rect x="399.86" y="173.09" width="8.93" height="9.21" fill="#fee7db"/>
<rect x="407.79" y="173.09" width="16.87" height="9.21" fill="#fee5d8"/>
<rect x="423.66" y="173.09" width="8.93" height="9.21" fill="#fee7db"/>
<rect x="431.59" y="173.09" width="8.93" height="9.21" fill="#feeae1"/>
<rect x="439.52" y="173.09" width="8.93" height="9.21" fill="#ffefe8"/>
<rect x="447.45" y="173.09" width="8.93" height="9.21" fill="#fff3ed"/>
<rect x="455.39" y="173.09" width="39.66" height="9.21" fill="#fff5f0"/>
<rect x="336.4" y="181.3" width="48.6" height="8.2" fill="#fff5f0"/>
<rect x="384" y="181.3" width="8.93" height="8.2" fill="#fff3ed"/>
<rect x="391.93" y="181.3" width="8.93" height="8.2" fill="#ffefe8"/>
<rect x="399.86" y="181.3" width="8.93" height="8.2" fill="#ffeee6"/>
<rect x="407.79" y="181.3" width="16.87" height="8.2" fill="#ffede5"/>
<rect x="423.66" y="181.3" width="8.93" height="8.2" fill="#ffeee6"/>
<rect x="431.59" y="181.3" width="8.93" height="8.2" fill="#ffefe8"/>
<rect x="439.52" y="181.3" width="8.93" height="8.2" fill="#fff3ed"/>
<rect x="447.45" y="181.3" width="47.6" height="8.2" fill="#fff5f0"/>
</g>
<rect x="328.5" y="14.45" width="183.45" height="191.45" fill="none" stroke="#2b2b2b" stroke-width="0.9"/>
<text x="328.5" y="218.1" text-anchor="middle" font-size="10.55">0</text>
<text x="354.71" y="218.1" text-anchor="middle" font-size="10.55">1</text>
<text x="380.91" y="218.1" text-anchor="middle" font-size="10.55">2</text>
<text x="407.12" y="218.1" text-anchor="middle" font-size="10.55">3</text>
<text x="433.33" y="218.1" text-anchor="middle" font-size="10.55">4</text>
<text x="459.54" y="218.1" text-anchor="middle" font-size="10.55">5</text>
<text x="485.74" y="218.1" text-anchor="middle" font-size="10.55">6</text>
<text x="511.95" y="218.1" text-anchor="middle" font-size="10.55">7</text>
<text x="326" y="190" text-anchor="end" font-size="10.55">−4</text>
<text x="326" y="151.71" text-anchor="end" font-size="10.55">−2</text>
<text x="326" y="113.42" text-anchor="end" font-size="10.55">0</text>
<text x="326" y="75.13" text-anchor="end" font-size="10.55">2</text>
<text x="326" y="36.84" text-anchor="end" font-size="10.55">4</text>
<path d="M354.71 205.9v-4M354.71 14.45v4M380.91 205.9v-4M380.91 14.45v4M407.12 205.9v-4M407.12 14.45v4M433.33 205.9v-4M433.33 14.45v4M459.54 205.9v-4M459.54 14.45v4M485.74 205.9v-4M485.74 14.45v4M328.5 186.75h4M511.95 186.75h-4M328.5 148.46h4M511.95 148.46h-4M328.5 110.17h4M511.95 110.17h-4M328.5 71.88h4M511.95 71.88h-4M328.5 33.59h4M511.95 33.59h-4" stroke="#2b2b2b" stroke-width="0.9" fill="none"/>
<text x="420.23" y="233.7" text-anchor="middle">mean volume</text>
<text transform="translate(303.5 110.17) rotate(-90)" text-anchor="middle">mean hydropathy</text>
<text x="420.23" y="9.95" text-anchor="middle" font-size="13.0">Counts non amyloids</text>
<defs><linearGradient id="g2" x1="0" y1="0" x2="0" y2="1"><stop offset="0" stop-color="#67000d"/><stop offset="0.03" stop-color="#75030f"/><stop offset="0.06" stop-color="#840711"/><stop offset="0.09" stop-color="#940b13"/><stop offset="0.12" stop-color="#a30f15"/><stop offset="0.16" stop-color="#ad1117"/><stop offset="0.19" stop-color="#b71319"/><stop offset="0.22" stop-color="#c1161b"/><stop offset="0.25" stop-color="#ca181d"/><stop offset="0.28" stop-color="#d32020"/><stop offset="0.31" stop-color="#dc2924"/><stop offset="0.34" stop-color="#e53228"/><stop offset="0.38" stop-color="#ee3a2c"/><stop offset="0.41" stop-color="#f24633"/><stop offset="0.44" stop-color="#f5523a"/><stop offset="0.47" stop-color="#f85d42"/><stop offset="0.5" stop-color="#fb694a"/><stop offset="0.53" stop-color="#fb7353"/><stop offset="0.56" stop-color="#fb7d5d"/><stop offset="0.59" stop-color="#fc8767"/><stop offset="0.62" stop-color="#fc9272"/><stop offset="0.66" stop-color="#fc9c7d"/><stop offset="0.69" stop-color="#fca689"/><stop offset="0.72" stop-color="#fcb095"/><stop offset="0.75" stop-color="#fcbba1"/><stop offset="0.78" stop-color="#fcc4ad"/><stop offset="0.81" stop-color="#fdcdb9"/><stop offset="0.84" stop-color="#fdd7c6"/><stop offset="0.88" stop-color="#fee0d2"/><stop offset="0.91" stop-color="#fee5d9"/><stop offset="0.94" stop-color="#feeae1"/><stop offset="0.97" stop-color="#fff0e8"/><stop offset="1" stop-color="#fff5f0"/></linearGradient></defs>
<rect x="523.1" y="14.45" width="9.7" height="191.45" fill="url(#g2)" stroke="#2b2b2b" stroke-width="0.9"/>
<text x="535.8" y="209.15" font-size="10.55">0</text>
<text x="535.8" y="186.41" font-size="10.55">50</text>
<text x="535.8" y="163.67" font-size="10.55">100</text>
<text x="535.8" y="140.94" font-size="10.55">150</text>
<text x="535.8" y="118.2" font-size="10.55">200</text>
<text x="535.8" y="95.46" font-size="10.55">250</text>
<text x="535.8" y="72.72" font-size="10.55">300</text>
<text x="535.8" y="49.99" font-size="10.55">350</text>
<text x="535.8" y="27.25" font-size="10.55">400</text>
<path d="M532.8 205.9h-4M532.8 183.16h-4M532.8 160.42h-4M532.8 137.69h-4M532.8 114.95h-4M532.8 92.21h-4M532.8 69.47h-4M532.8 46.74h-4M532.8 24h-4" stroke="#2b2b2b" stroke-width="0.9" fill="none"/>
<g>
<rect x="42.97" y="287.5" width="40.48" height="9.2" fill="#000000"/>
<rect x="82.45" y="287.5" width="16.79" height="9.2" fill="#67001f"/>
<rect x="98.25" y="287.5" width="8.9" height="9.2" fill="#fddbc7"/>
<rect x="106.14" y="287.5" width="8.9" height="9.2" fill="#ec9374"/>
<rect x="114.04" y="287.5" width="8.9" height="9.2" fill="#dd7059"/>
<rect x="121.94" y="287.5" width="8.9" height="9.2" fill="#bb2a34"/>
<rect x="129.83" y="287.5" width="24.69" height="9.2" fill="#67001f"/>
<rect x="153.52" y="287.5" width="8.9" height="9.2" fill="#bb2a34"/>
<rect x="161.42" y="287.5" width="8.9" height="9.2" fill="#f3a481"/>
<rect x="169.31" y="287.5" width="16.79" height="9.2" fill="#f9f0eb"/>
<rect x="185.11" y="287.5" width="8.9" height="9.2" fill="#fae9df"/>
<rect x="193" y="287.5" width="7.9" height="9.2" fill="#000000"/>
<rect x="42.97" y="295.7" width="32.59" height="9.2" fill="#000000"/>
<rect x="74.56" y="295.7" width="8.9" height="9.2" fill="#67001f"/>
<rect x="82.45" y="295.7" width="16.79" height="9.2" fill="#fce2d2"/>
<rect x="98.25" y="295.7" width="8.9" height="9.2" fill="#fddbc7"/>
<rect x="106.14" y="295.7" width="8.9" height="9.2" fill="#fbceb7"/>
<rect x="114.04" y="295.7" width="8.9" height="9.2" fill="#fddbc7"/>
<rect x="121.94" y="295.7" width="8.9" height="9.2" fill="#f6b394"/>
<rect x="129.83" y="295.7" width="16.79" height="9.2" fill="#d6604d"/>
<rect x="145.62" y="295.7" width="16.79" height="9.2" fill="#ec9374"/>
<rect x="161.42" y="295.7" width="8.9" height="9.2" fill="#f8bfa4"/>
<rect x="169.31" y="295.7" width="8.9" height="9.2" fill="#f8f3f0"/>
<rect x="177.21" y="295.7" width="8.9" height="9.2" fill="#f9f0eb"/>
<rect x="185.11" y="295.7" width="8.9" height="9.2" fill="#fae9df"/>
<rect x="193" y="295.7" width="7.9" height="9.2" fill="#000000"/>
<rect x="42.97" y="303.89" width="24.69" height="9.2" fill="#000000"/>
<rect x="66.66" y="303.89" width="16.79" height="9.2" fill="#67001f"/>
<rect x="82.45" y="303.89" width="8.9" height="9.2" fill="#dd7059"/>
<rect x="90.35" y="303.89" width="16.79" height="9.2" fill="#f3a481"/>
<rect x="106.14" y="303.89" width="8.9" height="9.2" fill="#ec9374"/>
<rect x="114.04" y="303.89" width="8.9" height="9.2" fill="#f6b394"/>
<rect x="121.94" y="303.89" width="16.79" height="9.2" fill="#f3a481"/>
<rect x="137.73" y="303.89" width="8.9" height="9.2" fill="#f6b394"/>
<rect x="145.62" y="303.89" width="8.9" height="9.2" fill="#fddbc7"/>
<rect x="153.52" y="303.89" width="8.9" height="9.2" fill="#fdddcb"/>
<rect x="161.42" y="303.89" width="8.9" height="9.2" fill="#fce2d2"/>
<rect x="169.31" y="303.89" width="8.9" height="9.2" fill="#edf2f5"/>
<rect x="177.21" y="303.89" width="8.9" height="9.2" fill="#f6f7f7"/>
<rect x="185.11" y="303.89" width="8.9" height="9.2" fill="#f9f0eb"/>
<rect x="193" y="303.89" width="7.9" height="9.2" fill="#0c3d73"/>
<rect x="42.97" y="312.09" width="16.79" height="9.2" fill="#000000"/>
<rect x="58.76" y="312.09" width="8.9" height="9.2" fill="#053061"/>
<rect x="66.66" y="312.09" width="8.9" height="9.2" fill="#fbceb7"/>
<rect x="74.56" y="312.09" width="8.9" height="9.2" fill="#ec9374"/>
<rect x="82.45" y="312.09" width="24.69" height="9.2" fill="#fbceb7"/>
<rect x="106.14" y="312.09" width="8.9" height="9.2" fill="#f8bfa4"/>
<rect x="114.04" y="312.09" width="8.9" height="9.2" fill="#fbceb7"/>
<rect x="121.94" y="312.09" width="8.9" height="9.2" fill="#f8bfa4"/>
<rect x="129.83" y="312.09" width="8.9" height="9.2" fill="#f8bb9e"/>
<rect x="137.73" y="312.09" width="8.9" height="9.2" fill="#f8bfa4"/>
<rect x="145.62" y="312.09" width="8.9" height="9.2" fill="#fddbc7"/>
<rect x="153.52" y="312.09" width="8.9" height="9.2" fill="#fce2d2"/>
<rect x="161.42" y="312.09" width="8.9" height="9.2" fill="#f9f0eb"/>
<rect x="169.31" y="312.09" width="8.9" height="9.2" fill="#e7f0f4"/>
<rect x="177.21" y="312.09" width="8.9" height="9.2" fill="#e4eef4"/>
<rect x="185.11" y="312.09" width="8.9" height="9.2" fill="#edf2f5"/>
<rect x="193" y="312.09" width="7.9" height="9.2" fill="#0c3d73"/>
<rect x="42.97" y="320.29" width="16.79" height="9.2" fill="#67001f"/>
<rect x="58.76" y="320.29" width="8.9" height="9.2" fill="#fddbc7"/>
<rect x="66.66" y="320.29" width="16.79" height="9.2" fill="#f8bfa4"/>
<rect x="82.45" y="320.29" width="40.48" height="9.2" fill="#fce0d0"/>
<rect x="121.94" y="320.29" width="16.79" height="9.2" fill="#fdddcb"/>
<rect x="137.73" y="320.29" width="8.9" height="9.2" fill="#fbceb7"/>
<rect x="145.62" y="320.29" width="8.9" height="9.2" fill="#fcd5bf"/>
<rect x="153.52" y="320.29" width="16.79" height="9.2" fill="#fcdfcf"/>
<rect x="169.31" y="320.29" width="8.9" height="9.2" fill="#fbe6da"/>
<rect x="177.21" y="320.29" width="8.9" height="9.2" fill="#edf2f5"/>
<rect x="185.11" y="320.29" width="8.9" height="9.2" fill="#e7f0f4"/>
<rect x="193" y="320.29" width="7.9" height="9.2" fill="#0c3d73"/>
<rect x="42.97" y="328.49" width="8.9" height="9.2" fill="#67001f"/>
<rect x="50.87" y="328.49" width="16.79" height="9.2" fill="#fae9df"/>
<rect x="66.66" y="328.49" width="16.79" height="9.2" fill="#fddbc7"/>
<rect x="82.45" y="328.49" width="40.48" height="9.2" fill="#fae9df"/>
<rect x="121.94" y="328.49" width="16.79" height="9.2" fill="#fbe6da"/>
<rect x="137.73" y="328.49" width="40.48" height="9.2" fill="#fce2d2"/>
<rect x="177.21" y="328.49" width="8.9" height="9.2" fill="#f9ebe3"/>
<rect x="185.11" y="328.49" width="8.9" height="9.2" fill="#e7f0f4"/>
<rect x="193" y="328.49" width="7.9" height="9.2" fill="#edf2f5"/>
<rect x="42.97" y="336.69" width="8.9" height="9.2" fill="#67001f"/>
<rect x="50.87" y="336.69" width="8.9" height="9.2" fill="#f9f0eb"/>
<rect x="58.76" y="336.69" width="8.9" height="9.2" fill="#e7f0f4"/>
<rect x="66.66" y="336.69" width="8.9" height="9.2" fill="#fae9df"/>
<rect x="74.56" y="336.69" width="8.9" height="9.2" fill="#fbe6da"/>
<rect x="82.45" y="336.69" width="40.48" height="9.2" fill="#f9ebe3"/>
<rect x="121.94" y="336.69" width="8.9" height="9.2" fill="#fae9df"/>
<rect x="129.83" y="336.69" width="8.9" height="9.2" fill="#fbe6da"/>
<rect x="137.73" y="336.69" width="32.59" height="9.2" fill="#fce2d2"/>
<rect x="169.31" y="336.69" width="8.9" height="9.2" fill="#fbceb7"/>
<rect x="177.21" y="336.69" width="8.9" height="9.2" fill="#fae9df"/>
<rect x="185.11" y="336.69" width="8.9" height="9.2" fill="#f9ebe3"/>
<rect x="193" y="336.69" width="7.9" height="9.2" fill="#edf2f5"/>
<rect x="42.97" y="344.88" width="8.9" height="9.2" fill="#67001f"/>
<rect x="50.87" y="344.88" width="16.79" height="9.2" fill="#f9f0eb"/>
<rect x="66.66" y="344.88" width="16.79" height="9.2" fill="#f9ebe3"/>
<rect x="82.45" y="344.88" width="40.48" height="9.2" fill="#f9eee7"/>
<rect x="121.94" y="344.88" width="8.9" height="9.2" fill="#f9ebe3"/>
<rect x="129.83" y="344.88" width="8.9" height="9.2" fill="#fae9df"/>
<rect x="137.73" y="344.88" width="32.59" height="9.2" fill="#fbe4d6"/>
<rect x="169.31" y="344.88" width="8.9" height="9.2" fill="#fbd0b9"/>
<rect x="177.21" y="344.88" width="8.9" height="9.2" fill="#fae9df"/>
<rect x="185.11" y="344.88" width="15.79" height="9.2" fill="#edf2f5"/>
<rect x="42.97" y="353.08" width="8.9" height="9.2" fill="#fae9df"/>
<rect x="50.87" y="353.08" width="8.9" height="9.2" fill="#dae9f2"/>
<rect x="58.76" y="353.08" width="8.9" height="9.2" fill="#e0ecf3"/>
<rect x="66.66" y="353.08" width="8.9" height="9.2" fill="#e4eef4"/>
<rect x="74.56" y="353.08" width="24.69" height="9.2" fill="#e7f0f4"/>
<rect x="98.25" y="353.08" width="8.9" height="9.2" fill="#ecf2f5"/>
<rect x="106.14" y="353.08" width="8.9" height="9.2" fill="#f6f7f7"/>
<rect x="114.04" y="353.08" width="8.9" height="9.2" fill="#f8f1ed"/>
<rect x="121.94" y="353.08" width="8.9" height="9.2" fill="#f9efe9"/>
<rect x="129.83" y="353.08" width="8.9" height="9.2" fill="#f9ebe3"/>
<rect x="137.73" y="353.08" width="32.59" height="9.2" fill="#fbe6da"/>
<rect x="169.31" y="353.08" width="8.9" height="9.2" fill="#fdddcb"/>
<rect x="177.21" y="353.08" width="8.9" height="9.2" fill="#fbe6da"/>
<rect x="185.11" y="353.08" width="8.9" height="9.2" fill="#f9ebe3"/>
<rect x="193" y="353.08" width="7.9" height="9.2" fill="#f8f1ed"/>
<rect x="42.97" y="361.28" width="16.79" height="9.2" fill="#053061"/>
<rect x="58.76" y="361.28" width="16.79" height="9.2" fill="#7eb8d7"/>
<rect x="74.56" y="361.28" width="8.9" height="9.2" fill="#dae9f2"/>
<rect x="82.45" y="361.28" width="8.9" height="9.2" fill="#e0ecf3"/>
<rect x="90.35" y="361.28" width="24.69" height="9.2" fill="#e4eef4"/>
<rect x="114.04" y="361.28" width="8.9" height="9.2" fill="#edf2f5"/>
<rect x="121.94" y="361.28" width="8.9" height="9.2" fill="#f8f1ed"/>
<rect x="129.83" y="361.28" width="8.9" height="9.2" fill="#f9efe9"/>
<rect x="137.73" y="361.28" width="24.69" height="9.2" fill="#faeae1"/>
<rect x="161.42" y="361.28" width="8.9" height="9.2" fill="#fbe6da"/>
<rect x="169.31" y="361.28" width="8.9" height="9.2" fill="#fce2d2"/>
<rect x="177.21" y="361.28" width="8.9" height="9.2" fill="#fbe6da"/>
<rect x="185.11" y="361.28" width="8.9" height="9.2" fill="#f9ebe3"/>
<rect x="193" y="361.28" width="7.9" height="9.2" fill="#f6f7f7"/>
<rect x="42.97" y="369.48" width="16.79" height="9.2" fill="#053061"/>
<rect x="58.76" y="369.48" width="16.79" height="9.2" fill="#8ac0db"/>
<rect x="74.56" y="369.48" width="8.9" height="9.2" fill="#dae9f2"/>
<rect x="82.45" y="369.48" width="8.9" height="9.2" fill="#e0ecf3"/>
<rect x="90.35" y="369.48" width="16.79" height="9.2" fill="#e4eef4"/>
<rect x="106.14" y="369.48" width="8.9" height="9.2" fill="#e7f0f4"/>
<rect x="114.04" y="369.48" width="8.9" height="9.2" fill="#edf2f5"/>
<rect x="121.94" y="369.48" width="8.9" height="9.2" fill="#f8f3f0"/>
<rect x="129.83" y="369.48" width="8.9" height="9.2" fill="#f9f0eb"/>
<rect x="137.73" y="369.48" width="8.9" height="9.2" fill="#f9ebe3"/>
<rect x="145.62" y="369.48" width="16.79" height="9.2" fill="#fae9df"/>
<rect x="161.42" y="369.48" width="8.9" height="9.2" fill="#fbe6da"/>
<rect x="169.31" y="369.48" width="16.79" height="9.2" fill="#fce2d2"/>
<rect x="185.11" y="369.48" width="8.9" height="9.2" fill="#fbe6da"/>
<rect x="193" y="369.48" width="7.9" height="9.2" fill="#f9ebe3"/>
<rect x="42.97" y="377.67" width="8.9" height="9.2" fill="#053061"/>
<rect x="50.87" y="377.67" width="8.9" height="9.2" fill="#a2cde3"/>
<rect x="58.76" y="377.67" width="16.79" height="9.2" fill="#b1d5e7"/>
<rect x="74.56" y="377.67" width="8.9" height="9.2" fill="#90c4dd"/>
<rect x="82.45" y="377.67" width="8.9" height="9.2" fill="#c0dceb"/>
<rect x="90.35" y="377.67" width="8.9" height="9.2" fill="#cae1ee"/>
<rect x="98.25" y="377.67" width="8.9" height="9.2" fill="#dae9f2"/>
<rect x="106.14" y="377.67" width="8.9" height="9.2" fill="#e0ecf3"/>
<rect x="114.04" y="377.67" width="16.79" height="9.2" fill="#e7f0f4"/>
<rect x="129.83" y="377.67" width="8.9" height="9.2" fill="#ecf2f5"/>
<rect x="137.73" y="377.67" width="8.9" height="9.2" fill="#f2f5f6"/>
<rect x="145.62" y="377.67" width="8.9" height="9.2" fill="#f9f0eb"/>
<rect x="153.52" y="377.67" width="8.9" height="9.2" fill="#f9ebe3"/>
<rect x="161.42" y="377.67" width="8.9" height="9.2" fill="#fae9df"/>
<rect x="169.31" y="377.67" width="24.69" height="9.2" fill="#fbe6da"/>
<rect x="193" y="377.67" width="7.9" height="9.2" fill="#fae9df"/>
<rect x="42.97" y="385.87" width="8.9" height="9.2" fill="#053061"/>
<rect x="50.87" y="385.87" width="8.9" height="9.2" fill="#a2cde3"/>
<rect x="58.76" y="385.87" width="8.9" height="9.2" fill="#569fc9"/>
<rect x="66.66" y="385.87" width="16.79" height="9.2" fill="#90c4dd"/>
<rect x="82.45" y="385.87" width="8.9" height="9.2" fill="#b1d5e7"/>
<rect x="90.35" y="385.87" width="8.9" height="9.2" fill="#c0dceb"/>
<rect x="98.25" y="385.87" width="8.9" height="9.2" fill="#d1e5f0"/>
<rect x="106.14" y="385.87" width="8.9" height="9.2" fill="#dae9f2"/>
<rect x="114.04" y="385.87" width="16.79" height="9.2" fill="#e4eef4"/>
<rect x="129.83" y="385.87" width="16.79" height="9.2" fill="#e7f0f4"/>
<rect x="145.62" y="385.87" width="8.9" height="9.2" fill="#ecf2f5"/>
<rect x="153.52" y="385.87" width="8.9" height="9.2" fill="#edf2f5"/>
<rect x="161.42" y="385.87" width="8.9" height="9.2" fill="#f2f5f6"/>
<rect x="169.31" y="385.87" width="8.9" height="9.2" fill="#f9ebe3"/>
<rect x="177.21" y="385.87" width="8.9" height="9.2" fill="#fae9df"/>
<rect x="185.11" y="385.87" width="8.9" height="9.2" fill="#fdddcb"/>
<rect x="193" y="385.87" width="7.9" height="9.2" fill="#fce2d2"/>
<rect x="42.97" y="394.07" width="8.9" height="9.2" fill="#053061"/>
<rect x="50.87" y="394.07" width="8.9" height="9.2" fill="#c0dceb"/>
<rect x="58.76" y="394.07" width="8.9" height="9.2" fill="#b1d5e7"/>
<rect x="66.66" y="394.07" width="8.9" height="9.2" fill="#4393c3"/>
<rect x="74.56" y="394.07" width="8.9" height="9.2" fill="#569fc9"/>
<rect x="82.45" y="394.07" width="8.9" height="9.2" fill="#b1d5e7"/>
<rect x="90.35" y="394.07" width="8.9" height="9.2" fill="#7eb8d7"/>
<rect x="98.25" y="394.07" width="8.9" height="9.2" fill="#c0dceb"/>
<rect x="106.14" y="394.07" width="8.9" height="9.2" fill="#d1e5f0"/>
<rect x="114.04" y="394.07" width="8.9" height="9.2" fill="#e0ecf3"/>
<rect x="121.94" y="394.07" width="16.79" height="9.2" fill="#e4eef4"/>
<rect x="137.73" y="394.07" width="24.69" height="9.2" fill="#e7f0f4"/>
<rect x="161.42" y="394.07" width="8.9" height="9.2" fill="#ecf2f5"/>
<rect x="169.31" y="394.07" width="8.9" height="9.2" fill="#f2f5f6"/>
<rect x="177.21" y="394.07" width="8.9" height="9.2" fill="#f9ebe3"/>
<rect x="185.11" y="394.07" width="8.9" height="9.2" fill="#e7f0f4"/>
<rect x="193" y="394.07" width="7.9" height="9.2" fill="#fce2d2"/>
<rect x="42.97" y="402.26" width="8.9" height="9.2" fill="#053061"/>
<rect x="50.87" y="402.26" width="8.9" height="9.2" fill="#dae9f2"/>
<rect x="58.76" y="402.26" width="8.9" height="9.2" fill="#d1e5f0"/>
<rect x="66.66" y="402.26" width="24.69" height="9.2" fill="#b1d5e7"/>
<rect x="90.35" y="402.26" width="8.9" height="9.2" fill="#569fc9"/>
<rect x="98.25" y="402.26" width="8.9" height="9.2" fill="#a2cde3"/>
<rect x="106.14" y="402.26" width="8.9" height="9.2" fill="#c0dceb"/>
<rect x="114.04" y="402.26" width="40.48" height="9.2" fill="#dae9f2"/>
<rect x="153.52" y="402.26" width="16.79" height="9.2" fill="#d4e6f1"/>
<rect x="169.31" y="402.26" width="8.9" height="9.2" fill="#e7f0f4"/>
<rect x="177.21" y="402.26" width="8.9" height="9.2" fill="#fae9df"/>
<rect x="185.11" y="402.26" width="8.9" height="9.2" fill="#fce2d2"/>
<rect x="193" y="402.26" width="7.9" height="9.2" fill="#67001f"/>
<rect x="42.97" y="410.46" width="8.9" height="9.2" fill="#053061"/>
<rect x="50.87" y="410.46" width="16.79" height="9.2" fill="#dae9f2"/>
<rect x="66.66" y="410.46" width="16.79" height="9.2" fill="#d1e5f0"/>
<rect x="82.45" y="410.46" width="8.9" height="9.2" fill="#a2cde3"/>
<rect x="90.35" y="410.46" width="8.9" height="9.2" fill="#327cb7"/>
<rect x="98.25" y="410.46" width="8.9" height="9.2" fill="#7eb8d7"/>
<rect x="106.14" y="410.46" width="8.9" height="9.2" fill="#c0dceb"/>
<rect x="114.04" y="410.46" width="8.9" height="9.2" fill="#d4e6f1"/>
<rect x="121.94" y="410.46" width="8.9" height="9.2" fill="#d1e5f0"/>
<rect x="129.83" y="410.46" width="8.9" height="9.2" fill="#d4e6f1"/>
<rect x="137.73" y="410.46" width="16.79" height="9.2" fill="#d7e8f1"/>
<rect x="153.52" y="410.46" width="16.79" height="9.2" fill="#dae9f2"/>
<rect x="169.31" y="410.46" width="8.9" height="9.2" fill="#a2cde3"/>
<rect x="177.21" y="410.46" width="8.9" height="9.2" fill="#e4eef4"/>
<rect x="185.11" y="410.46" width="8.9" height="9.2" fill="#053061"/>
<rect x="193" y="410.46" width="7.9" height="9.2" fill="#000000"/>
<rect x="42.97" y="418.66" width="24.69" height="9.2" fill="#000000"/>
<rect x="66.66" y="418.66" width="8.9" height="9.2" fill="#053061"/>
<rect x="74.56" y="418.66" width="8.9" height="9.2" fill="#dae9f2"/>
<rect x="82.45" y="418.66" width="8.9" height="9.2" fill="#c0dceb"/>
<rect x="90.35" y="418.66" width="16.79" height="9.2" fill="#b1d5e7"/>
<rect x="106.14" y="418.66" width="8.9" height="9.2" fill="#c0dceb"/>
<rect x="114.04" y="418.66" width="8.9" height="9.2" fill="#d1e5f0"/>
<rect x="121.94" y="418.66" width="8.9" height="9.2" fill="#cae1ee"/>
<rect x="129.83" y="418.66" width="24.69" height="9.2" fill="#d1e5f0"/>
<rect x="153.52" y="418.66" width="16.79" height="9.2" fill="#cae1ee"/>
<rect x="169.31" y="418.66" width="16.79" height="9.2" fill="#053061"/>
<rect x="185.11" y="418.66" width="15.79" height="9.2" fill="#000000"/>
<rect x="42.97" y="426.86" width="24.69" height="9.2" fill="#000000"/>
<rect x="66.66" y="426.86" width="32.59" height="9.2" fill="#053061"/>
<rect x="98.25" y="426.86" width="8.9" height="9.2" fill="#d1e5f0"/>
<rect x="106.14" y="426.86" width="8.9" height="9.2" fill="#c0dceb"/>
<rect x="114.04" y="426.86" width="8.9" height="9.2" fill="#d1e5f0"/>
<rect x="121.94" y="426.86" width="8.9" height="9.2" fill="#cae1ee"/>
<rect x="129.83" y="426.86" width="8.9" height="9.2" fill="#dae9f2"/>
<rect x="137.73" y="426.86" width="16.79" height="9.2" fill="#c0dceb"/>
<rect x="153.52" y="426.86" width="8.9" height="9.2" fill="#cae1ee"/>
<rect x="161.42" y="426.86" width="8.9" height="9.2" fill="#e0ecf3"/>
<rect x="169.31" y="426.86" width="16.79" height="9.2" fill="#053061"/>
<rect x="185.11" y="426.86" width="15.79" height="9.2" fill="#000000"/>
<rect x="42.97" y="435.06" width="48.38" height="9.2" fill="#000000"/>
<rect x="90.35" y="435.06" width="16.79" height="9.2" fill="#053061"/>
<rect x="106.14" y="435.06" width="8.9" height="9.2" fill="#7eb8d7"/>
<rect x="114.04" y="435.06" width="8.9" height="9.2" fill="#c0dceb"/>
<rect x="121.94" y="435.06" width="8.9" height="9.2" fill="#b1d5e7"/>
<rect x="129.83" y="435.06" width="32.59" height="9.2" fill="#dae9f2"/>
<rect x="161.42" y="435.06" width="8.9" height="9.2" fill="#e4eef4"/>
<rect x="169.31" y="435.06" width="16.79" height="9.2" fill="#053061"/>
<rect x="185.11" y="435.06" width="15.79" height="9.2" fill="#000000"/>
<rect x="42.97" y="443.25" width="56.28" height="8.2" fill="#000000"/>
<rect x="98.25" y="443.25" width="24.69" height="8.2" fill="#053061"/>
<rect x="121.94" y="443.25" width="8.9" height="8.2" fill="#b1d5e7"/>
<rect x="129.83" y="443.25" width="32.59" height="8.2" fill="#e0ecf3"/>
<rect x="161.42" y="443.25" width="8.9" height="8.2" fill="#e7f0f4"/>
<rect x="169.31" y="443.25" width="31.59" height="8.2" fill="#000000"/>
</g>
<rect x="34.64" y="276.3" width="183.05" height="191.8" fill="none" stroke="#2b2b2b" stroke-width="0.9"/>
<text x="34.64" y="480.3" text-anchor="middle" font-size="10.55">0</text>
<text x="60.79" y="480.3" text-anchor="middle" font-size="10.55">1</text>
<text x="86.94" y="480.3" text-anchor="middle" font-size="10.55">2</text>
<text x="113.09" y="480.3" text-anchor="middle" font-size="10.55">3</text>
<text x="139.24" y="480.3" text-anchor="middle" font-size="10.55">4</text>
<text x="165.39" y="480.3" text-anchor="middle" font-size="10.55">5</text>
<text x="191.54" y="480.3" text-anchor="middle" font-size="10.55">6</text>
<text x="217.69" y="480.3" text-anchor="middle" font-size="10.55">7</text>
<text x="32.14" y="451.57" text-anchor="end" font-size="10.55">−4</text>
<text x="32.14" y="413.21" text-anchor="end" font-size="10.55">−2</text>
<text x="32.14" y="374.85" text-anchor="end" font-size="10.55">0</text>
<text x="32.14" y="336.49" text-anchor="end" font-size="10.55">2</text>
<text x="32.14" y="298.13" text-anchor="end" font-size="10.55">4</text>
<path d="M60.79 468.1v-4M60.79 276.3v4M86.94 468.1v-4M86.94 276.3v4M113.09 468.1v-4M113.09 276.3v4M139.24 468.1v-4M139.24 276.3v4M165.39 468.1v-4M165.39 276.3v4M191.54 468.1v-4M191.54 276.3v4M34.64 448.92h4M217.69 448.92h-4M34.64 410.56h4M217.69 410.56h-4M34.64 372.2h4M217.69 372.2h-4M34.64 333.84h4M217.69 333.84h-4M34.64 295.48h4M217.69 295.48h-4" stroke="#2b2b2b" stroke-width="0.9" fill="none"/>
<text x="126.16" y="496.4" text-anchor="middle">mean volume</text>
<text transform="translate(9.64 372.7) rotate(-90)" text-anchor="middle">mean hydropathy</text>
<text x="126.16" y="271.8" text-anchor="middle" font-size="13.0">Odds ratio</text>
<defs><linearGradient id="g3" x1="0" y1="0" x2="0" y2="1"><stop offset="0" stop-color="#053061"/><stop offset="0.03" stop-color="#0d3f76"/><stop offset="0.06" stop-color="#15508d"/><stop offset="0.09" stop-color="#1e61a5"/><stop offset="0.12" stop-color="#2870b1"/><stop offset="0.16" stop-color="#337eb8"/><stop offset="0.19" stop-color="#3e8cbf"/><stop offset="0.22" stop-color="#4f9bc7"/><stop offset="0.25" stop-color="#68abd0"/><stop offset="0.28" stop-color="#81bad8"/><stop offset="0.31" stop-color="#98c8e0"/><stop offset="0.34" stop-color="#acd2e5"/><stop offset="0.38" stop-color="#c0dceb"/><stop offset="0.41" stop-color="#d2e6f0"/><stop offset="0.44" stop-color="#deebf2"/><stop offset="0.47" stop-color="#eaf1f5"/><stop offset="0.5" stop-color="#f6f7f7"/><stop offset="0.53" stop-color="#f9efe9"/><stop offset="0.56" stop-color="#fbe6da"/><stop offset="0.59" stop-color="#fdddcb"/><stop offset="0.62" stop-color="#fbceb7"/><stop offset="0.66" stop-color="#f8bda1"/><stop offset="0.69" stop-color="#f5ac8b"/><stop offset="0.72" stop-color="#ef9979"/><stop offset="0.75" stop-color="#e58368"/><stop offset="0.78" stop-color="#dc6e57"/><stop offset="0.81" stop-color="#d25849"/><stop offset="0.84" stop-color="#c6413e"/><stop offset="0.88" stop-color="#bb2a34"/><stop offset="0.91" stop-color="#ae172a"/><stop offset="0.94" stop-color="#960f27"/><stop offset="0.97" stop-color="#7f0823"/><stop offset="1" stop-color="#67001f"/></linearGradient></defs>
<rect x="229.24" y="276.3" width="9.7" height="191.8" fill="url(#g3)" stroke="#2b2b2b" stroke-width="0.9"/>
<text x="241.94" y="471.25" font-size="10.55">&lt; 0.047</text>
<text x="241.94" y="374.9" font-size="10.55">1</text>
<text x="241.94" y="278.55" font-size="10.55">&gt; 21.0</text>
<path d="M238.94 468.1h-4M238.94 372.2h-4M238.94 276.3h-4" stroke="#2b2b2b" stroke-width="0.9" fill="none"/>
<g>
<rect x="336.4" y="287.5" width="32.73" height="9.2" fill="#1a1a1a"/>
<rect x="368.13" y="287.5" width="8.93" height="9.2" fill="#2a2a2a"/>
<rect x="376.06" y="287.5" width="8.93" height="9.2" fill="#424242"/>
<rect x="384" y="287.5" width="8.93" height="9.2" fill="#4c4c4c"/>
<rect x="391.93" y="287.5" width="8.93" height="9.2" fill="#424242"/>
<rect x="399.86" y="287.5" width="8.93" height="9.2" fill="#535353"/>
<rect x="407.79" y="287.5" width="8.93" height="9.2" fill="#4c4c4c"/>
<rect x="415.73" y="287.5" width="8.93" height="9.2" fill="#5e5e5e"/>
<rect x="423.66" y="287.5" width="8.93" height="9.2" fill="#7c7c7c"/>
<rect x="431.59" y="287.5" width="8.93" height="9.2" fill="#959595"/>
<rect x="439.52" y="287.5" width="8.93" height="9.2" fill="#7c7c7c"/>
<rect x="447.45" y="287.5" width="8.93" height="9.2" fill="#696969"/>
<rect x="455.39" y="287.5" width="8.93" height="9.2" fill="#535353"/>
<rect x="463.32" y="287.5" width="31.73" height="9.2" fill="#1a1a1a"/>
<rect x="336.4" y="295.7" width="32.73" height="9.2" fill="#1a1a1a"/>
<rect x="368.13" y="295.7" width="8.93" height="9.2" fill="#4c4c4c"/>
<rect x="376.06" y="295.7" width="8.93" height="9.2" fill="#484848"/>
<rect x="384" y="295.7" width="8.93" height="9.2" fill="#4c4c4c"/>
<rect x="391.93" y="295.7" width="8.93" height="9.2" fill="#5e5e5e"/>
<rect x="399.86" y="295.7" width="8.93" height="9.2" fill="#696969"/>
<rect x="407.79" y="295.7" width="8.93" height="9.2" fill="#5e5e5e"/>
<rect x="415.73" y="295.7" width="8.93" height="9.2" fill="#7c7c7c"/>
<rect x="423.66" y="295.7" width="8.93" height="9.2" fill="#afafaf"/>
<rect x="431.59" y="295.7" width="8.93" height="9.2" fill="#959595"/>
<rect x="439.52" y="295.7" width="16.86" height="9.2" fill="#7c7c7c"/>
<rect x="455.39" y="295.7" width="8.93" height="9.2" fill="#535353"/>
<rect x="463.32" y="295.7" width="8.93" height="9.2" fill="#1a1a1a"/>
<rect x="471.25" y="295.7" width="16.87" height="9.2" fill="#2a2a2a"/>
<rect x="487.12" y="295.7" width="7.93" height="9.2" fill="#1a1a1a"/>
<rect x="336.4" y="303.89" width="24.8" height="9.2" fill="#1a1a1a"/>
<rect x="360.2" y="303.89" width="8.93" height="9.2" fill="#535353"/>
<rect x="368.13" y="303.89" width="8.93" height="9.2" fill="#9f9f9f"/>
<rect x="376.06" y="303.89" width="8.93" height="9.2" fill="#959595"/>
<rect x="384" y="303.89" width="8.93" height="9.2" fill="#afafaf"/>
<rect x="391.93" y="303.89" width="8.93" height="9.2" fill="#b9b9b9"/>
<rect x="399.86" y="303.89" width="8.93" height="9.2" fill="#e6e6e6"/>
<rect x="407.79" y="303.89" width="8.93" height="9.2" fill="#d9d9d9"/>
<rect x="415.73" y="303.89" width="8.93" height="9.2" fill="#e0e0e0"/>
<rect x="423.66" y="303.89" width="8.93" height="9.2" fill="#e6e6e6"/>
<rect x="431.59" y="303.89" width="8.93" height="9.2" fill="#cdcdcd"/>
<rect x="439.52" y="303.89" width="8.93" height="9.2" fill="#7c7c7c"/>
<rect x="447.45" y="303.89" width="8.93" height="9.2" fill="#5e5e5e"/>
<rect x="455.39" y="303.89" width="8.93" height="9.2" fill="#4c4c4c"/>
<rect x="463.32" y="303.89" width="31.73" height="9.2" fill="#1a1a1a"/>
<rect x="336.4" y="312.09" width="24.8" height="9.2" fill="#1a1a1a"/>
<rect x="360.2" y="312.09" width="8.93" height="9.2" fill="#5e5e5e"/>
<rect x="368.13" y="312.09" width="16.87" height="9.2" fill="#959595"/>
<rect x="384" y="312.09" width="8.93" height="9.2" fill="#b9b9b9"/>
<rect x="391.93" y="312.09" width="8.93" height="9.2" fill="#d9d9d9"/>
<rect x="399.86" y="312.09" width="8.93" height="9.2" fill="#fef4ef"/>
<rect x="407.79" y="312.09" width="8.93" height="9.2" fill="#fef0e8"/>
<rect x="415.73" y="312.09" width="8.93" height="9.2" fill="#fde2d2"/>
<rect x="423.66" y="312.09" width="8.93" height="9.2" fill="#feede4"/>
<rect x="431.59" y="312.09" width="8.93" height="9.2" fill="#f0f0f0"/>
<rect x="439.52" y="312.09" width="8.93" height="9.2" fill="#959595"/>
<rect x="447.45" y="312.09" width="8.93" height="9.2" fill="#696969"/>
<rect x="455.39" y="312.09" width="8.93" height="9.2" fill="#424242"/>
<rect x="463.32" y="312.09" width="31.73" height="9.2" fill="#1a1a1a"/>
<rect x="336.4" y="320.29" width="24.8" height="9.2" fill="#323232"/>
<rect x="360.2" y="320.29" width="8.93" height="9.2" fill="#959595"/>
<rect x="368.13" y="320.29" width="8.93" height="9.2" fill="#afafaf"/>
<rect x="376.06" y="320.29" width="8.93" height="9.2" fill="#8b8b8b"/>
<rect x="384" y="320.29" width="8.93" height="9.2" fill="#e0e0e0"/>
<rect x="391.93" y="320.29" width="8.93" height="9.2" fill="#f8f8f8"/>
<rect x="399.86" y="320.29" width="8.93" height="9.2" fill="#fbd0b9"/>
<rect x="407.79" y="320.29" width="8.93" height="9.2" fill="#f7b596"/>
<rect x="415.73" y="320.29" width="8.93" height="9.2" fill="#e58368"/>
<rect x="423.66" y="320.29" width="8.93" height="9.2" fill="#facab1"/>
<rect x="431.59" y="320.29" width="8.93" height="9.2" fill="#fbd0b9"/>
<rect x="439.52" y="320.29" width="8.93" height="9.2" fill="#cdcdcd"/>
<rect x="447.45" y="320.29" width="8.93" height="9.2" fill="#afafaf"/>
<rect x="455.39" y="320.29" width="8.93" height="9.2" fill="#8b8b8b"/>
<rect x="463.32" y="320.29" width="8.93" height="9.2" fill="#5e5e5e"/>
<rect x="471.25" y="320.29" width="23.8" height="9.2" fill="#1a1a1a"/>
<rect x="336.4" y="328.49" width="16.87" height="9.2" fill="#323232"/>
<rect x="352.26" y="328.49" width="8.93" height="9.2" fill="#1a1a1a"/>
<rect x="360.2" y="328.49" width="8.93" height="9.2" fill="#696969"/>
<rect x="368.13" y="328.49" width="8.93" height="9.2" fill="#959595"/>
<rect x="376.06" y="328.49" width="8.93" height="9.2" fill="#5e5e5e"/>
<rect x="384" y="328.49" width="8.93" height="9.2" fill="#959595"/>
<rect x="391.93" y="328.49" width="8.93" height="9.2" fill="#bebebe"/>
<rect x="399.86" y="328.49" width="16.87" height="9.2" fill="#fefefe"/>
<rect x="415.73" y="328.49" width="8.93" height="9.2" fill="#f8bfa4"/>
<rect x="423.66" y="328.49" width="8.93" height="9.2" fill="#fbd0b9"/>
<rect x="431.59" y="328.49" width="8.93" height="9.2" fill="#f3a481"/>
<rect x="439.52" y="328.49" width="8.93" height="9.2" fill="#e6e6e6"/>
<rect x="447.45" y="328.49" width="8.93" height="9.2" fill="#b9b9b9"/>
<rect x="455.39" y="328.49" width="8.93" height="9.2" fill="#afafaf"/>
<rect x="463.32" y="328.49" width="8.93" height="9.2" fill="#7c7c7c"/>
<rect x="471.25" y="328.49" width="23.8" height="9.2" fill="#1a1a1a"/>
<rect x="336.4" y="336.69" width="8.93" height="9.2" fill="#323232"/>
<rect x="344.33" y="336.69" width="16.87" height="9.2" fill="#1a1a1a"/>
<rect x="360.2" y="336.69" width="8.93" height="9.2" fill="#535353"/>
<rect x="368.13" y="336.69" width="8.93" height="9.2" fill="#8b8b8b"/>
<rect x="376.06" y="336.69" width="8.93" height="9.2" fill="#5e5e5e"/>
<rect x="384" y="336.69" width="8.93" height="9.2" fill="#7c7c7c"/>
<rect x="391.93" y="336.69" width="8.93" height="9.2" fill="#959595"/>
<rect x="399.86" y="336.69" width="8.93" height="9.2" fill="#e0e0e0"/>
<rect x="407.79" y="336.69" width="8.93" height="9.2" fill="#f0f0f0"/>
<rect x="415.73" y="336.69" width="8.93" height="9.2" fill="#f3a481"/>
<rect x="423.66" y="336.69" width="8.93" height="9.2" fill="#c43b3c"/>
<rect x="431.59" y="336.69" width="8.93" height="9.2" fill="#67001f"/>
<rect x="439.52" y="336.69" width="8.93" height="9.2" fill="#f7b596"/>
<rect x="447.45" y="336.69" width="8.93" height="9.2" fill="#feede4"/>
<rect x="455.39" y="336.69" width="8.93" height="9.2" fill="#d9d9d9"/>
<rect x="463.32" y="336.69" width="8.93" height="9.2" fill="#afafaf"/>
<rect x="471.25" y="336.69" width="8.93" height="9.2" fill="#4c4c4c"/>
<rect x="479.19" y="336.69" width="15.87" height="9.2" fill="#1a1a1a"/>
<rect x="336.4" y="344.88" width="8.93" height="9.2" fill="#323232"/>
<rect x="344.33" y="344.88" width="16.87" height="9.2" fill="#1a1a1a"/>
<rect x="360.2" y="344.88" width="8.93" height="9.2" fill="#2a2a2a"/>
<rect x="368.13" y="344.88" width="8.93" height="9.2" fill="#424242"/>
<rect x="376.06" y="344.88" width="8.93" height="9.2" fill="#1a1a1a"/>
<rect x="384" y="344.88" width="8.93" height="9.2" fill="#2a2a2a"/>
<rect x="391.93" y="344.88" width="8.93" height="9.2" fill="#424242"/>
<rect x="399.86" y="344.88" width="8.93" height="9.2" fill="#959595"/>
<rect x="407.79" y="344.88" width="8.93" height="9.2" fill="#afafaf"/>
<rect x="415.73" y="344.88" width="8.93" height="9.2" fill="#f8f8f8"/>
<rect x="423.66" y="344.88" width="8.93" height="9.2" fill="#fde2d2"/>
<rect x="431.59" y="344.88" width="8.93" height="9.2" fill="#c43b3c"/>
<rect x="439.52" y="344.88" width="8.93" height="9.2" fill="#fbd0b9"/>
<rect x="447.45" y="344.88" width="8.93" height="9.2" fill="#fefefe"/>
<rect x="455.39" y="344.88" width="8.93" height="9.2" fill="#cdcdcd"/>
<rect x="463.32" y="344.88" width="8.93" height="9.2" fill="#bebebe"/>
<rect x="471.25" y="344.88" width="8.93" height="9.2" fill="#4c4c4c"/>
<rect x="479.19" y="344.88" width="15.87" height="9.2" fill="#1a1a1a"/>
<rect x="336.4" y="353.08" width="8.93" height="9.2" fill="#1a1a1a"/>
<rect x="344.33" y="353.08" width="24.8" height="9.2" fill="#424242"/>
<rect x="368.13" y="353.08" width="8.93" height="9.2" fill="#1a1a1a"/>
<rect x="376.06" y="353.08" width="16.87" height="9.2" fill="#424242"/>
<rect x="391.93" y="353.08" width="8.93" height="9.2" fill="#323232"/>
<rect x="399.86" y="353.08" width="8.93" height="9.2" fill="#424242"/>
<rect x="407.79" y="353.08" width="8.93" height="9.2" fill="#696969"/>
<rect x="415.73" y="353.08" width="8.93" height="9.2" fill="#afafaf"/>
<rect x="423.66" y="353.08" width="8.93" height="9.2" fill="#cdcdcd"/>
<rect x="431.59" y="353.08" width="8.93" height="9.2" fill="#fde2d2"/>
<rect x="439.52" y="353.08" width="8.93" height="9.2" fill="#f8f8f8"/>
<rect x="447.45" y="353.08" width="8.93" height="9.2" fill="#e0e0e0"/>
<rect x="455.39" y="353.08" width="8.93" height="9.2" fill="#c1c1c1"/>
<rect x="463.32" y="353.08" width="8.93" height="9.2" fill="#bebebe"/>
<rect x="471.25" y="353.08" width="8.93" height="9.2" fill="#5e5e5e"/>
<rect x="479.19" y="353.08" width="8.93" height="9.2" fill="#2a2a2a"/>
<rect x="487.12" y="353.08" width="7.93" height="9.2" fill="#1a1a1a"/>
<rect x="336.4" y="361.28" width="8.93" height="9.2" fill="#424242"/>
<rect x="344.33" y="361.28" width="8.93" height="9.2" fill="#5e5e5e"/>
<rect x="352.26" y="361.28" width="8.93" height="9.2" fill="#696969"/>
<rect x="360.2" y="361.28" width="8.93" height="9.2" fill="#959595"/>
<rect x="368.13" y="361.28" width="8.93" height="9.2" fill="#696969"/>
<rect x="376.06" y="361.28" width="16.87" height="9.2" fill="#878787"/>
<rect x="391.93" y="361.28" width="8.93" height="9.2" fill="#7c7c7c"/>
<rect x="399.86" y="361.28" width="16.87" height="9.2" fill="#323232"/>
<rect x="415.73" y="361.28" width="8.93" height="9.2" fill="#424242"/>
<rect x="423.66" y="361.28" width="8.93" height="9.2" fill="#5e5e5e"/>
<rect x="431.59" y="361.28" width="8.93" height="9.2" fill="#bebebe"/>
<rect x="439.52" y="361.28" width="16.86" height="9.2" fill="#afafaf"/>
<rect x="455.39" y="361.28" width="8.93" height="9.2" fill="#9f9f9f"/>
<rect x="463.32" y="361.28" width="8.93" height="9.2" fill="#959595"/>
<rect x="471.25" y="361.28" width="8.93" height="9.2" fill="#4c4c4c"/>
<rect x="479.19" y="361.28" width="8.93" height="9.2" fill="#323232"/>
<rect x="487.12" y="361.28" width="7.93" height="9.2" fill="#1a1a1a"/>
<rect x="336.4" y="369.48" width="8.93" height="9.2" fill="#323232"/>
<rect x="344.33" y="369.48" width="8.93" height="9.2" fill="#5e5e5e"/>
<rect x="352.26" y="369.48" width="8.93" height="9.2" fill="#696969"/>
<rect x="360.2" y="369.48" width="8.93" height="9.2" fill="#959595"/>
<rect x="368.13" y="369.48" width="8.93" height="9.2" fill="#878787"/>
<rect x="376.06" y="369.48" width="8.93" height="9.2" fill="#afafaf"/>
<rect x="384" y="369.48" width="8.93" height="9.2" fill="#b9b9b9"/>
<rect x="391.93" y="369.48" width="8.93" height="9.2" fill="#bebebe"/>
<rect x="399.86" y="369.48" width="8.93" height="9.2" fill="#5e5e5e"/>
<rect x="407.79" y="369.48" width="8.93" height="9.2" fill="#323232"/>
<rect x="415.73" y="369.48" width="8.93" height="9.2" fill="#1a1a1a"/>
<rect x="423.66" y="369.48" width="8.93" height="9.2" fill="#535353"/>
<rect x="431.59" y="369.48" width="24.8" height="9.2" fill="#7c7c7c"/>
<rect x="455.39" y="369.48" width="8.93" height="9.2" fill="#5e5e5e"/>
<rect x="463.32" y="369.48" width="8.93" height="9.2" fill="#696969"/>
<rect x="471.25" y="369.48" width="8.93" height="9.2" fill="#424242"/>
<rect x="479.19" y="369.48" width="8.93" height="9.2" fill="#323232"/>
<rect x="487.12" y="369.48" width="7.93" height="9.2" fill="#1a1a1a"/>
<rect x="336.4" y="377.67" width="8.93" height="9.2" fill="#323232"/>
<rect x="344.33" y="377.67" width="8.93" height="9.2" fill="#696969"/>
<rect x="352.26" y="377.67" width="8.93" height="9.2" fill="#7c7c7c"/>
<rect x="360.2" y="377.67" width="8.93" height="9.2" fill="#9f9f9f"/>
<rect x="368.13" y="377.67" width="8.93" height="9.2" fill="#cdcdcd"/>
<rect x="376.06" y="377.67" width="8.93" height="9.2" fill="#f8f8f8"/>
<rect x="384" y="377.67" width="8.93" height="9.2" fill="#fbd0b9"/>
<rect x="391.93" y="377.67" width="8.93" height="9.2" fill="#facab1"/>
<rect x="399.86" y="377.67" width="8.93" height="9.2" fill="#f0f0f0"/>
<rect x="407.79" y="377.67" width="8.93" height="9.2" fill="#afafaf"/>
<rect x="415.73" y="377.67" width="8.93" height="9.2" fill="#5e5e5e"/>
<rect x="423.66" y="377.67" width="8.93" height="9.2" fill="#424242"/>
<rect x="431.59" y="377.67" width="32.73" height="9.2" fill="#1a1a1a"/>
<rect x="463.32" y="377.67" width="8.93" height="9.2" fill="#323232"/>
<rect x="471.25" y="377.67" width="23.8" height="9.2" fill="#1a1a1a"/>
<rect x="336.4" y="385.87" width="8.93" height="9.2" fill="#323232"/>
<rect x="344.33" y="385.87" width="8.93" height="9.2" fill="#696969"/>
<rect x="352.26" y="385.87" width="8.93" height="9.2" fill="#7c7c7c"/>
<rect x="360.2" y="385.87" width="8.93" height="9.2" fill="#afafaf"/>
<rect x="368.13" y="385.87" width="8.93" height="9.2" fill="#cdcdcd"/>
<rect x="376.06" y="385.87" width="8.93" height="9.2" fill="#fefefe"/>
<rect x="384" y="385.87" width="8.93" height="9.2" fill="#f8bfa4"/>
<rect x="391.93" y="385.87" width="8.93" height="9.2" fill="#c43b3c"/>
<rect x="399.86" y="385.87" width="8.93" height="9.2" fill="#e58368"/>
<rect x="407.79" y="385.87" width="8.93" height="9.2" fill="#fefefe"/>
<rect x="415.73" y="385.87" width="8.93" height="9.2" fill="#d9d9d9"/>
<rect x="423.66" y="385.87" width="8.93" height="9.2" fill="#bebebe"/>
<rect x="431.59" y="385.87" width="8.93" height="9.2" fill="#535353"/>
<rect x="439.52" y="385.87" width="55.53" height="9.2" fill="#1a1a1a"/>
<rect x="336.4" y="394.07" width="8.93" height="9.2" fill="#323232"/>
<rect x="344.33" y="394.07" width="16.87" height="9.2" fill="#5e5e5e"/>
<rect x="360.2" y="394.07" width="8.93" height="9.2" fill="#959595"/>
<rect x="368.13" y="394.07" width="8.93" height="9.2" fill="#c1c1c1"/>
<rect x="376.06" y="394.07" width="8.93" height="9.2" fill="#f0f0f0"/>
<rect x="384" y="394.07" width="8.93" height="9.2" fill="#f7b596"/>
<rect x="391.93" y="394.07" width="8.93" height="9.2" fill="#bd2d35"/>
<rect x="399.86" y="394.07" width="8.93" height="9.2" fill="#c43b3c"/>
<rect x="407.79" y="394.07" width="8.93" height="9.2" fill="#ee9677"/>
<rect x="415.73" y="394.07" width="8.93" height="9.2" fill="#fde2d2"/>
<rect x="423.66" y="394.07" width="8.93" height="9.2" fill="#f0f0f0"/>
<rect x="431.59" y="394.07" width="8.93" height="9.2" fill="#b9b9b9"/>
<rect x="439.52" y="394.07" width="8.93" height="9.2" fill="#7c7c7c"/>
<rect x="447.45" y="394.07" width="16.87" height="9.2" fill="#4c4c4c"/>
<rect x="463.32" y="394.07" width="8.93" height="9.2" fill="#2a2a2a"/>
<rect x="471.25" y="394.07" width="23.8" height="9.2" fill="#1a1a1a"/>
<rect x="336.4" y="402.26" width="8.93" height="9.2" fill="#1a1a1a"/>
<rect x="344.33" y="402.26" width="16.87" height="9.2" fill="#424242"/>
<rect x="360.2" y="402.26" width="8.93" height="9.2" fill="#5e5e5e"/>
<rect x="368.13" y="402.26" width="8.93" height="9.2" fill="#7c7c7c"/>
<rect x="376.06" y="402.26" width="8.93" height="9.2" fill="#b9b9b9"/>
<rect x="384" y="402.26" width="8.93" height="9.2" fill="#fde2d2"/>
<rect x="391.93" y="402.26" width="8.93" height="9.2" fill="#d6604d"/>
<rect x="399.86" y="402.26" width="8.93" height="9.2" fill="#a21328"/>
<rect x="407.79" y="402.26" width="8.93" height="9.2" fill="#d6604d"/>
<rect x="415.73" y="402.26" width="8.93" height="9.2" fill="#eb9172"/>
<rect x="423.66" y="402.26" width="8.93" height="9.2" fill="#feede4"/>
<rect x="431.59" y="402.26" width="8.93" height="9.2" fill="#f0f0f0"/>
<rect x="439.52" y="402.26" width="8.93" height="9.2" fill="#afafaf"/>
<rect x="447.45" y="402.26" width="8.93" height="9.2" fill="#8b8b8b"/>
<rect x="455.39" y="402.26" width="8.93" height="9.2" fill="#7c7c7c"/>
<rect x="463.32" y="402.26" width="8.93" height="9.2" fill="#323232"/>
<rect x="471.25" y="402.26" width="16.87" height="9.2" fill="#1a1a1a"/>
<rect x="487.12" y="402.26" width="7.93" height="9.2" fill="#323232"/>
<rect x="336.4" y="410.46" width="8.93" height="9.2" fill="#1a1a1a"/>
<rect x="344.33" y="410.46" width="8.93" height="9.2" fill="#323232"/>
<rect x="352.26" y="410.46" width="8.93" height="9.2" fill="#424242"/>
<rect x="360.2" y="410.46" width="8.93" height="9.2" fill="#535353"/>
<rect x="368.13" y="410.46" width="8.93" height="9.2" fill="#5e5e5e"/>
<rect x="376.06" y="410.46" width="8.93" height="9.2" fill="#9f9f9f"/>
<rect x="384" y="410.46" width="8.93" height="9.2" fill="#e6e6e6"/>
<rect x="391.93" y="410.46" width="8.93" height="9.2" fill="#fddbc7"/>
<rect x="399.86" y="410.46" width="8.93" height="9.2" fill="#ee9677"/>
<rect x="407.79" y="410.46" width="8.93" height="9.2" fill="#eb9172"/>
<rect x="415.73" y="410.46" width="8.93" height="9.2" fill="#f3a481"/>
<rect x="423.66" y="410.46" width="8.93" height="9.2" fill="#feede4"/>
<rect x="431.59" y="410.46" width="8.93" height="9.2" fill="#f0f0f0"/>
<rect x="439.52" y="410.46" width="8.93" height="9.2" fill="#bebebe"/>
<rect x="447.45" y="410.46" width="8.93" height="9.2" fill="#959595"/>
<rect x="455.39" y="410.46" width="8.93" height="9.2" fill="#696969"/>
<rect x="463.32" y="410.46" width="8.93" height="9.2" fill="#4c4c4c"/>
<rect x="471.25" y="410.46" width="23.8" height="9.2" fill="#1a1a1a"/>
<rect x="336.4" y="418.66" width="24.8" height="9.2" fill="#1a1a1a"/>
<rect x="360.2" y="418.66" width="8.93" height="9.2" fill="#2a2a2a"/>
<rect x="368.13" y="418.66" width="8.93" height="9.2" fill="#424242"/>
<rect x="376.06" y="418.66" width="8.93" height="9.2" fill="#5e5e5e"/>
<rect x="384" y="418.66" width="8.93" height="9.2" fill="#959595"/>
<rect x="391.93" y="418.66" width="8.93" height="9.2" fill="#c1c1c1"/>
<rect x="399.86" y="418.66" width="8.93" height="9.2" fill="#f0f0f0"/>
<rect x="407.79" y="418.66" width="8.93" height="9.2" fill="#fefefe"/>
<rect x="415.73" y="418.66" width="8.93" height="9.2" fill="#feede4"/>
<rect x="423.66" y="418.66" width="8.93" height="9.2" fill="#fefefe"/>
<rect x="431.59" y="418.66" width="8.93" height="9.2" fill="#eaeaea"/>
<rect x="439.52" y="418.66" width="8.93" height="9.2" fill="#c1c1c1"/>
<rect x="447.45" y="418.66" width="8.93" height="9.2" fill="#afafaf"/>
<rect x="455.39" y="418.66" width="8.93" height="9.2" fill="#696969"/>
<rect x="463.32" y="418.66" width="8.93" height="9.2" fill="#4c4c4c"/>
<rect x="471.25" y="418.66" width="23.8" height="9.2" fill="#1a1a1a"/>
<rect x="336.4" y="426.86" width="40.66" height="9.2" fill="#1a1a1a"/>
<rect x="376.06" y="426.86" width="8.93" height="9.2" fill="#424242"/>
<rect x="384" y="426.86" width="8.93" height="9.2" fill="#5e5e5e"/>
<rect x="391.93" y="426.86" width="8.93" height="9.2" fill="#696969"/>
<rect x="399.86" y="426.86" width="8.93" height="9.2" fill="#9f9f9f"/>
<rect x="407.79" y="426.86" width="8.93" height="9.2" fill="#bebebe"/>
<rect x="415.73" y="426.86" width="8.93" height="9.2" fill="#cdcdcd"/>
<rect x="423.66" y="426.86" width="8.93" height="9.2" fill="#bebebe"/>
<rect x="431.59" y="426.86" width="8.93" height="9.2" fill="#b9b9b9"/>
<rect x="439.52" y="426.86" width="8.93" height="9.2" fill="#afafaf"/>
<rect x="447.45" y="426.86" width="8.93" height="9.2" fill="#7c7c7c"/>
<rect x="455.39" y="426.86" width="8.93" height="9.2" fill="#4c4c4c"/>
<rect x="463.32" y="426.86" width="8.93" height="9.2" fill="#424242"/>
<rect x="471.25" y="426.86" width="23.8" height="9.2" fill="#1a1a1a"/>
<rect x="336.4" y="435.06" width="48.6" height="9.2" fill="#1a1a1a"/>
<rect x="384" y="435.06" width="8.93" height="9.2" fill="#323232"/>
<rect x="391.93" y="435.06" width="16.87" height="9.2" fill="#5e5e5e"/>
<rect x="407.79" y="435.06" width="8.93" height="9.2" fill="#6e6e6e"/>
<rect x="415.73" y="435.06" width="8.93" height="9.2" fill="#959595"/>
<rect x="423.66" y="435.06" width="8.93" height="9.2" fill="#696969"/>
<rect x="431.59" y="435.06" width="8.93" height="9.2" fill="#6e6e6e"/>
<rect x="439.52" y="435.06" width="8.93" height="9.2" fill="#696969"/>
<rect x="447.45" y="435.06" width="8.93" height="9.2" fill="#535353"/>
<rect x="455.39" y="435.06" width="8.93" height="9.2" fill="#2a2a2a"/>
<rect x="463.32" y="435.06" width="31.73" height="9.2" fill="#1a1a1a"/>
<rect x="336.4" y="443.25" width="56.53" height="8.2" fill="#1a1a1a"/>
<rect x="391.93" y="443.25" width="8.93" height="8.2" fill="#2a2a2a"/>
<rect x="399.86" y="443.25" width="8.93" height="8.2" fill="#323232"/>
<rect x="407.79" y="443.25" width="8.93" height="8.2" fill="#4c4c4c"/>
<rect x="415.73" y="443.25" width="8.93" height="8.2" fill="#535353"/>
<rect x="423.66" y="443.25" width="16.87" height="8.2" fill="#424242"/>
<rect x="439.52" y="443.25" width="8.93" height="8.2" fill="#323232"/>
<rect x="447.45" y="443.25" width="8.93" height="8.2" fill="#2a2a2a"/>
<rect x="455.39" y="443.25" width="39.66" height="8.2" fill="#1a1a1a"/>
</g>
<rect x="328.5" y="276.3" width="183.45" height="191.8" fill="none" stroke="#2b2b2b" stroke-width="0.9"/>
<text x="328.5" y="480.3" text-anchor="middle" font-size="10.55">0</text>
<text x="354.71" y="480.3" text-anchor="middle" font-size="10.55">1</text>
<text x="380.91" y="480.3" text-anchor="middle" font-size="10.55">2</text>
<text x="407.12" y="480.3" text-anchor="middle" font-size="10.55">3</text>
<text x="433.33" y="480.3" text-anchor="middle" font-size="10.55">4</text>
<text x="459.54" y="480.3" text-anchor="middle" font-size="10.55">5</text>
<text x="485.74" y="480.3" text-anchor="middle" font-size="10.55">6</text>
<text x="511.95" y="480.3" text-anchor="middle" font-size="10.55">7</text>
<text x="326" y="451.57" text-anchor="end" font-size="10.55">−4</text>
<text x="326" y="413.21" text-anchor="end" font-size="10.55">−2</text>
<text x="326" y="374.85" text-anchor="end" font-size="10.55">0</text>
<text x="326" y="336.49" text-anchor="end" font-size="10.55">2</text>
<text x="326" y="298.13" text-anchor="end" font-size="10.55">4</text>
<path d="M354.71 468.1v-4M354.71 276.3v4M380.91 468.1v-4M380.91 276.3v4M407.12 468.1v-4M407.12 276.3v4M433.33 468.1v-4M433.33 276.3v4M459.54 468.1v-4M459.54 276.3v4M485.74 468.1v-4M485.74 276.3v4M328.5 448.92h4M511.95 448.92h-4M328.5 410.56h4M511.95 410.56h-4M328.5 372.2h4M511.95 372.2h-4M328.5 333.84h4M511.95 333.84h-4M328.5 295.48h4M511.95 295.48h-4" stroke="#2b2b2b" stroke-width="0.9" fill="none"/>
<text x="420.23" y="496.4" text-anchor="middle">mean volume</text>
<text transform="translate(303.5 372.7) rotate(-90)" text-anchor="middle">mean hydropathy</text>
<text x="420.23" y="257.2" text-anchor="middle" font-size="13.0">Fisher test</text>
<text x="420.23" y="271.8" text-anchor="middle" font-size="13.0">p-value (logarithm of 10)</text>
<defs><linearGradient id="g4" x1="0" y1="0" x2="0" y2="1"><stop offset="0" stop-color="#1a1a1a"/><stop offset="0.03" stop-color="#282828"/><stop offset="0.06" stop-color="#383838"/><stop offset="0.09" stop-color="#484848"/><stop offset="0.12" stop-color="#5a5a5a"/><stop offset="0.16" stop-color="#6c6c6c"/><stop offset="0.19" stop-color="#7e7e7e"/><stop offset="0.22" stop-color="#8f8f8f"/><stop offset="0.25" stop-color="#9f9f9f"/><stop offset="0.28" stop-color="#afafaf"/><stop offset="0.31" stop-color="#bebebe"/><stop offset="0.34" stop-color="#cacaca"/><stop offset="0.38" stop-color="#d6d6d6"/><stop offset="0.41" stop-color="#e1e1e1"/><stop offset="0.44" stop-color="#ebebeb"/><stop offset="0.47" stop-color="#f5f5f5"/><stop offset="0.5" stop-color="#fefefe"/><stop offset="0.53" stop-color="#fef4ef"/><stop offset="0.56" stop-color="#fee9dd"/><stop offset="0.59" stop-color="#fddecb"/><stop offset="0.62" stop-color="#fbceb7"/><stop offset="0.66" stop-color="#f8bda1"/><stop offset="0.69" stop-color="#f5ac8b"/><stop offset="0.72" stop-color="#ef9979"/><stop offset="0.75" stop-color="#e58368"/><stop offset="0.78" stop-color="#dc6e57"/><stop offset="0.81" stop-color="#d25849"/><stop offset="0.84" stop-color="#c6413e"/><stop offset="0.88" stop-color="#bb2a34"/><stop offset="0.91" stop-color="#ae172a"/><stop offset="0.94" stop-color="#960f27"/><stop offset="0.97" stop-color="#7f0823"/><stop offset="1" stop-color="#67001f"/></linearGradient></defs>
<rect x="523.1" y="276.3" width="9.7" height="191.8" fill="url(#g4)" stroke="#2b2b2b" stroke-width="0.9"/>
<text x="535.8" y="278.55" font-size="10.55">0.0</text>
<text x="535.8" y="301.17" font-size="10.55">−2.5</text>
<text x="535.8" y="323.78" font-size="10.55">−5.0</text>
<text x="535.8" y="346.4" font-size="10.55">−7.5</text>
<text x="535.8" y="369.02" font-size="10.55">−10.0</text>
<text x="535.8" y="391.64" font-size="10.55">−12.5</text>
<text x="535.8" y="414.25" font-size="10.55">−15.0</text>
<text x="535.8" y="436.87" font-size="10.55">−17.5</text>
<text x="535.8" y="459.49" font-size="10.55">−20.0</text>
<path d="M532.8 276.3h-4M532.8 298.81h-4M532.8 321.32h-4M532.8 343.84h-4M532.8 366.35h-4M532.8 388.86h-4M532.8 411.37h-4M532.8 433.88h-4M532.8 456.39h-4" stroke="#2b2b2b" stroke-width="0.9" fill="none"/>
</svg>
</body></html>
